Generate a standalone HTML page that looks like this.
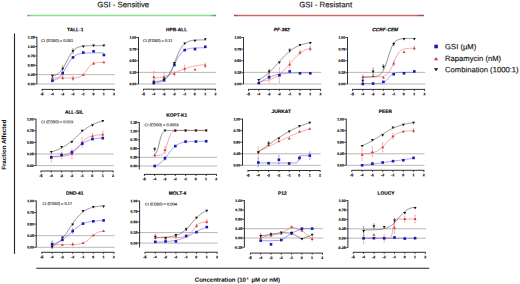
<!DOCTYPE html>
<html><head><meta charset="utf-8"><style>
html,body{margin:0;padding:0;background:#fff;width:520px;height:284px;overflow:hidden}
svg{display:block;position:absolute;left:0;top:0}
text{font-family:"Liberation Sans", sans-serif;text-rendering:geometricPrecision}
.yt{font-size:3.5px;font-weight:bold;text-anchor:end;fill:#111;stroke:#111;stroke-width:0.18px}
.xt{font-size:3.5px;font-weight:bold;text-anchor:middle;fill:#111;stroke:#111;stroke-width:0.2px}
.ttl{font-size:4.85px;font-weight:bold;fill:#000;stroke:#000;stroke-width:0.14px;text-anchor:middle}
.ci{font-size:3.95px;fill:#111;stroke:#111;stroke-width:0.1px}
.hd{font-size:7.8px;fill:#1a1a1a;stroke:#1a1a1a;stroke-width:0.16px}
.lg{font-size:7.65px;fill:#111;stroke:#111;stroke-width:0.14px}
.ax{font-size:6px;font-weight:bold;fill:#000}
</style></head><body>
<svg width="520" height="284" viewBox="0 0 520 284">
<text x="97.2" y="7.2" transform="rotate(0.05 97.2 7.2)" class="hd">GSI - Sensitive</text>
<text x="299.2" y="7.2" transform="rotate(0.05 299.2 7.2)" class="hd">GSI - Resistant</text>
<defs>
<linearGradient id="gg" gradientUnits="userSpaceOnUse" x1="27.5" y1="0" x2="216" y2="0">
<stop offset="0" stop-color="#556655"/><stop offset="0.012" stop-color="#7fd47f"/><stop offset="0.03" stop-color="#86e086"/><stop offset="0.965" stop-color="#86e086"/><stop offset="1" stop-color="#6a8a6a"/></linearGradient>
<linearGradient id="rg" gradientUnits="userSpaceOnUse" x1="234" y1="0" x2="423.8" y2="0">
<stop offset="0" stop-color="#664448"/><stop offset="0.02" stop-color="#c05a62"/><stop offset="0.04" stop-color="#d4646c"/><stop offset="0.955" stop-color="#d4646c"/><stop offset="1" stop-color="#6a4a4e"/></linearGradient>
</defs>
<line x1="27.5" y1="15.5" x2="216" y2="15.5" stroke="url(#gg)" stroke-width="1.3"/>
<line x1="234" y1="15.5" x2="423.8" y2="15.5" stroke="url(#rg)" stroke-width="1.3"/>
<line x1="14.5" y1="33.4" x2="14.5" y2="253.8" stroke="#222" stroke-width="1.1"/>
<text transform="translate(5.9,169.8) rotate(-89.95)" class="ax" style="font-size:6.15px">Fraction Affected</text>
<line x1="36.3" y1="268.2" x2="429.3" y2="268.2" stroke="#222" stroke-width="1.1"/>
<text x="194.8" y="281.8" transform="rotate(0.05 194.8 281.8)" class="ax">Concentration (10<tspan font-size="3.6" dx="0.7" dy="-2.4">x</tspan><tspan dx="1.3" dy="2.4"> µM or nM)</tspan></text>
<rect x="434.3" y="44.7" width="3.6" height="3.6" fill="#1a1aa8"/>
<path d="M436.1,57.1L438.2,60.3L434.0,60.3Z" fill="#c83838"/>
<path d="M434.0,68.3L438.2,68.3L436.1,71.3Z" fill="#111"/>
<text x="445.1" y="49.3" transform="rotate(0.05 445.1 49.3)" class="lg">GSI (µM)</text>
<text x="445.1" y="61" transform="rotate(0.05 445.1 61)" class="lg">Rapamycin (nM)</text>
<text x="445.1" y="72.2" transform="rotate(0.05 445.1 72.2)" class="lg">Combination (1000:1)</text>
<line x1="36.90" y1="74.65" x2="114.80" y2="74.65" stroke="#b0b0b0" stroke-width="0.9"/>
<line x1="36.90" y1="84.00" x2="114.80" y2="84.00" stroke="#b0b0b0" stroke-width="0.9"/>
<line x1="36.90" y1="36.85" x2="36.90" y2="84.00" stroke="#1a1a1a" stroke-width="0.9"/>
<line x1="34.80" y1="37.25" x2="36.90" y2="37.25" stroke="#1a1a1a" stroke-width="0.8"/>
<text x="34.65" y="38.55" transform="rotate(0.05 34.65 38.55)" class="yt">1.25</text>
<line x1="34.80" y1="46.60" x2="36.90" y2="46.60" stroke="#1a1a1a" stroke-width="0.8"/>
<text x="34.65" y="47.90" transform="rotate(0.05 34.65 47.90)" class="yt">1.00</text>
<line x1="34.80" y1="55.95" x2="36.90" y2="55.95" stroke="#1a1a1a" stroke-width="0.8"/>
<text x="34.65" y="57.25" transform="rotate(0.05 34.65 57.25)" class="yt">0.75</text>
<line x1="34.80" y1="65.30" x2="36.90" y2="65.30" stroke="#1a1a1a" stroke-width="0.8"/>
<text x="34.65" y="66.60" transform="rotate(0.05 34.65 66.60)" class="yt">0.50</text>
<line x1="34.80" y1="74.65" x2="36.90" y2="74.65" stroke="#1a1a1a" stroke-width="0.8"/>
<text x="34.65" y="75.95" transform="rotate(0.05 34.65 75.95)" class="yt">0.25</text>
<line x1="34.80" y1="84.00" x2="36.90" y2="84.00" stroke="#1a1a1a" stroke-width="0.8"/>
<text x="34.65" y="85.30" transform="rotate(0.05 34.65 85.30)" class="yt">0.00</text>
<line x1="41.70" y1="89.40" x2="114.60" y2="89.40" stroke="#1a1a1a" stroke-width="0.9"/>
<line x1="42.10" y1="89.40" x2="42.10" y2="91.00" stroke="#1a1a1a" stroke-width="0.8"/>
<text x="41.95" y="95.35" transform="rotate(0.05 41.95 95.35)" class="xt">-5</text>
<line x1="52.40" y1="89.40" x2="52.40" y2="91.00" stroke="#1a1a1a" stroke-width="0.8"/>
<text x="52.25" y="95.35" transform="rotate(0.05 52.25 95.35)" class="xt">-4</text>
<line x1="62.70" y1="89.40" x2="62.70" y2="91.00" stroke="#1a1a1a" stroke-width="0.8"/>
<text x="62.55" y="95.35" transform="rotate(0.05 62.55 95.35)" class="xt">-3</text>
<line x1="73.00" y1="89.40" x2="73.00" y2="91.00" stroke="#1a1a1a" stroke-width="0.8"/>
<text x="72.85" y="95.35" transform="rotate(0.05 72.85 95.35)" class="xt">-2</text>
<line x1="83.30" y1="89.40" x2="83.30" y2="91.00" stroke="#1a1a1a" stroke-width="0.8"/>
<text x="83.15" y="95.35" transform="rotate(0.05 83.15 95.35)" class="xt">-1</text>
<line x1="93.60" y1="89.40" x2="93.60" y2="91.00" stroke="#1a1a1a" stroke-width="0.8"/>
<text x="93.45" y="95.35" transform="rotate(0.05 93.45 95.35)" class="xt">0</text>
<line x1="103.90" y1="89.40" x2="103.90" y2="91.00" stroke="#1a1a1a" stroke-width="0.8"/>
<text x="103.75" y="95.35" transform="rotate(0.05 103.75 95.35)" class="xt">1</text>
<line x1="114.20" y1="89.40" x2="114.20" y2="91.00" stroke="#1a1a1a" stroke-width="0.8"/>
<text x="114.05" y="95.35" transform="rotate(0.05 114.05 95.35)" class="xt">2</text>
<text x="75.20" y="31.27" transform="rotate(0.05 75.20 31.27)" class="ttl">TALL-1</text>
<text x="41.25" y="41.95" transform="rotate(0.05 41.25 41.95)" class="ci">CI (ED50) = 0.051</text>
<path d="M62.70,66.05V71.28M62.00,66.05H63.40M62.00,71.28H63.40" stroke="#4a4a4a" stroke-width="0.45" fill="none"/>
<path d="M73.00,48.66V53.15M72.30,48.66H73.70M72.30,53.15H73.70" stroke="#4a4a4a" stroke-width="0.45" fill="none"/>
<path d="M52.40,75.77V79.51M51.70,75.77H53.10M51.70,79.51H53.10" stroke="#ee6a6a" stroke-width="0.45" fill="none"/>
<path d="M62.70,75.77V79.51M62.00,75.77H63.40M62.00,79.51H63.40" stroke="#ee6a6a" stroke-width="0.45" fill="none"/>
<path d="M73.00,76.52V80.26M72.30,76.52H73.70M72.30,80.26H73.70" stroke="#ee6a6a" stroke-width="0.45" fill="none"/>
<path d="M93.60,62.31V64.55M92.90,62.31H94.30M92.90,64.55H94.30" stroke="#ee6a6a" stroke-width="0.45" fill="none"/>
<path d="M52.40,79.14V82.13M51.70,79.14H53.10M51.70,82.13H53.10" stroke="#5a5af0" stroke-width="0.45" fill="none"/>
<polyline points="52.40,77.91 52.92,77.91 53.44,77.91 53.96,77.91 54.48,77.91 55.00,77.91 55.52,77.91 56.04,77.91 56.56,77.91 57.08,77.91 57.60,77.91 58.12,77.91 58.64,77.91 59.16,77.91 59.68,77.91 60.20,77.91 60.72,77.91 61.24,77.91 61.76,77.91 62.28,77.91 62.80,77.91 63.32,77.91 63.84,77.91 64.36,77.91 64.88,77.91 65.41,77.90 65.93,77.90 66.45,77.90 66.97,77.90 67.49,77.90 68.01,77.90 68.53,77.89 69.05,77.89 69.57,77.89 70.09,77.88 70.61,77.88 71.13,77.87 71.65,77.86 72.17,77.85 72.69,77.84 73.21,77.83 73.73,77.81 74.25,77.78 74.77,77.76 75.29,77.72 75.81,77.68 76.33,77.63 76.85,77.58 77.37,77.50 77.89,77.42 78.41,77.31 78.93,77.19 79.45,77.03 79.97,76.85 80.49,76.64 81.01,76.39 81.53,76.09 82.05,75.74 82.57,75.34 83.09,74.88 83.61,74.37 84.13,73.79 84.65,73.16 85.17,72.47 85.69,71.74 86.21,70.98 86.73,70.21 87.25,69.43 87.77,68.67 88.29,67.93 88.81,67.24 89.33,66.59 89.85,66.00 90.37,65.47 90.89,65.00 91.42,64.58 91.94,64.22 92.46,63.91 92.98,63.65 93.50,63.43 94.02,63.24 94.54,63.08 95.06,62.95 95.58,62.84 96.10,62.75 96.62,62.67 97.14,62.61 97.66,62.56 98.18,62.52 98.70,62.48 99.22,62.45 99.74,62.43 100.26,62.41 100.78,62.40 101.30,62.38 101.82,62.37 102.34,62.36 102.86,62.36 103.38,62.35 103.90,62.35" fill="none" stroke="#ee6a6a" stroke-width="0.6"/>
<path d="M52.40,76.14L53.85,78.64L50.95,78.64Z" fill="#c83838"/>
<path d="M62.70,76.14L64.15,78.64L61.25,78.64Z" fill="#c83838"/>
<path d="M73.00,76.89L74.45,79.39L71.55,79.39Z" fill="#c83838"/>
<path d="M83.30,73.15L84.75,75.65L81.85,75.65Z" fill="#c83838"/>
<path d="M93.60,61.93L95.05,64.43L92.15,64.43Z" fill="#c83838"/>
<path d="M103.90,60.81L105.35,63.31L102.45,63.31Z" fill="#c83838"/>
<polyline points="52.40,80.60 52.92,80.49 53.44,80.36 53.96,80.22 54.48,80.06 55.00,79.88 55.52,79.67 56.04,79.44 56.56,79.18 57.08,78.90 57.60,78.58 58.12,78.22 58.64,77.83 59.16,77.39 59.68,76.91 60.20,76.39 60.72,75.82 61.24,75.20 61.76,74.53 62.28,73.82 62.80,73.06 63.32,72.26 63.84,71.42 64.36,70.55 64.88,69.65 65.41,68.73 65.93,67.80 66.45,66.86 66.97,65.92 67.49,64.99 68.01,64.08 68.53,63.20 69.05,62.35 69.57,61.53 70.09,60.76 70.61,60.03 71.13,59.34 71.65,58.71 72.17,58.12 72.69,57.58 73.21,57.08 73.73,56.63 74.25,56.22 74.77,55.85 75.29,55.52 75.81,55.22 76.33,54.95 76.85,54.71 77.37,54.49 77.89,54.30 78.41,54.13 78.93,53.98 79.45,53.85 79.97,53.73 80.49,53.63 81.01,53.54 81.53,53.46 82.05,53.38 82.57,53.32 83.09,53.27 83.61,53.22 84.13,53.17 84.65,53.14 85.17,53.10 85.69,53.08 86.21,53.05 86.73,53.03 87.25,53.01 87.77,52.99 88.29,52.98 88.81,52.96 89.33,52.95 89.85,52.94 90.37,52.93 90.89,52.92 91.42,52.92 91.94,52.91 92.46,52.91 92.98,52.90 93.50,52.90 94.02,52.89 94.54,52.89 95.06,52.89 95.58,52.88 96.10,52.88 96.62,52.88 97.14,52.88 97.66,52.88 98.18,52.88 98.70,52.88 99.22,52.87 99.74,52.87 100.26,52.87 100.78,52.87 101.30,52.87 101.82,52.87 102.34,52.87 102.86,52.87 103.38,52.87 103.90,52.87" fill="none" stroke="#5a5af0" stroke-width="0.6"/>
<rect x="51.10" y="79.33" width="2.6" height="2.6" fill="#1a1aa8"/>
<rect x="61.40" y="71.85" width="2.6" height="2.6" fill="#1a1aa8"/>
<rect x="71.70" y="56.15" width="2.6" height="2.6" fill="#1a1aa8"/>
<rect x="82.00" y="51.28" width="2.6" height="2.6" fill="#1a1aa8"/>
<rect x="92.30" y="49.98" width="2.6" height="2.6" fill="#1a1aa8"/>
<rect x="102.60" y="53.72" width="2.6" height="2.6" fill="#1a1aa8"/>
<polyline points="52.40,75.79 52.92,75.69 53.44,75.57 53.96,75.44 54.48,75.29 55.00,75.12 55.52,74.93 56.04,74.71 56.56,74.47 57.08,74.20 57.60,73.89 58.12,73.56 58.64,73.18 59.16,72.76 59.68,72.29 60.20,71.78 60.72,71.22 61.24,70.61 61.76,69.95 62.28,69.24 62.80,68.47 63.32,67.65 63.84,66.79 64.36,65.88 64.88,64.94 65.41,63.96 65.93,62.96 66.45,61.94 66.97,60.91 67.49,59.89 68.01,58.88 68.53,57.88 69.05,56.92 69.57,55.98 70.09,55.09 70.61,54.24 71.13,53.45 71.65,52.70 72.17,52.00 72.69,51.36 73.21,50.77 73.73,50.23 74.25,49.73 74.77,49.28 75.29,48.88 75.81,48.52 76.33,48.19 76.85,47.90 77.37,47.64 77.89,47.41 78.41,47.20 78.93,47.02 79.45,46.86 79.97,46.71 80.49,46.58 81.01,46.47 81.53,46.37 82.05,46.29 82.57,46.21 83.09,46.14 83.61,46.08 84.13,46.03 84.65,45.99 85.17,45.95 85.69,45.91 86.21,45.88 86.73,45.85 87.25,45.83 87.77,45.81 88.29,45.79 88.81,45.78 89.33,45.76 89.85,45.75 90.37,45.74 90.89,45.73 91.42,45.72 91.94,45.71 92.46,45.71 92.98,45.70 93.50,45.70 94.02,45.69 94.54,45.69 95.06,45.69 95.58,45.68 96.10,45.68 96.62,45.68 97.14,45.68 97.66,45.67 98.18,45.67 98.70,45.67 99.22,45.67 99.74,45.67 100.26,45.67 100.78,45.67 101.30,45.67 101.82,45.67 102.34,45.67 102.86,45.67 103.38,45.66 103.90,45.66" fill="none" stroke="#4a4a4a" stroke-width="0.6"/>
<path d="M50.95,74.77L53.85,74.77L52.40,77.27Z" fill="#111"/>
<path d="M61.25,67.67L64.15,67.67L62.70,70.17Z" fill="#111"/>
<path d="M71.55,49.90L74.45,49.90L73.00,52.40Z" fill="#111"/>
<path d="M81.85,45.60L84.75,45.60L83.30,48.10Z" fill="#111"/>
<path d="M92.15,44.48L95.05,44.48L93.60,46.98Z" fill="#111"/>
<path d="M102.45,44.48L105.35,44.48L103.90,46.98Z" fill="#111"/>
<line x1="138.50" y1="72.38" x2="216.20" y2="72.38" stroke="#b0b0b0" stroke-width="0.9"/>
<line x1="138.50" y1="84.00" x2="216.20" y2="84.00" stroke="#b0b0b0" stroke-width="0.9"/>
<line x1="138.50" y1="37.10" x2="138.50" y2="84.00" stroke="#1a1a1a" stroke-width="0.9"/>
<line x1="136.40" y1="37.50" x2="138.50" y2="37.50" stroke="#1a1a1a" stroke-width="0.8"/>
<text x="136.25" y="38.80" transform="rotate(0.05 136.25 38.80)" class="yt">1.00</text>
<line x1="136.40" y1="49.12" x2="138.50" y2="49.12" stroke="#1a1a1a" stroke-width="0.8"/>
<text x="136.25" y="50.42" transform="rotate(0.05 136.25 50.42)" class="yt">0.75</text>
<line x1="136.40" y1="60.75" x2="138.50" y2="60.75" stroke="#1a1a1a" stroke-width="0.8"/>
<text x="136.25" y="62.05" transform="rotate(0.05 136.25 62.05)" class="yt">0.50</text>
<line x1="136.40" y1="72.38" x2="138.50" y2="72.38" stroke="#1a1a1a" stroke-width="0.8"/>
<text x="136.25" y="73.67" transform="rotate(0.05 136.25 73.67)" class="yt">0.25</text>
<line x1="136.40" y1="84.00" x2="138.50" y2="84.00" stroke="#1a1a1a" stroke-width="0.8"/>
<text x="136.25" y="85.30" transform="rotate(0.05 136.25 85.30)" class="yt">0.00</text>
<line x1="143.10" y1="89.20" x2="216.00" y2="89.20" stroke="#1a1a1a" stroke-width="0.9"/>
<line x1="143.50" y1="89.20" x2="143.50" y2="90.80" stroke="#1a1a1a" stroke-width="0.8"/>
<text x="143.35" y="95.15" transform="rotate(0.05 143.35 95.15)" class="xt">-5</text>
<line x1="153.80" y1="89.20" x2="153.80" y2="90.80" stroke="#1a1a1a" stroke-width="0.8"/>
<text x="153.65" y="95.15" transform="rotate(0.05 153.65 95.15)" class="xt">-4</text>
<line x1="164.10" y1="89.20" x2="164.10" y2="90.80" stroke="#1a1a1a" stroke-width="0.8"/>
<text x="163.95" y="95.15" transform="rotate(0.05 163.95 95.15)" class="xt">-3</text>
<line x1="174.40" y1="89.20" x2="174.40" y2="90.80" stroke="#1a1a1a" stroke-width="0.8"/>
<text x="174.25" y="95.15" transform="rotate(0.05 174.25 95.15)" class="xt">-2</text>
<line x1="184.70" y1="89.20" x2="184.70" y2="90.80" stroke="#1a1a1a" stroke-width="0.8"/>
<text x="184.55" y="95.15" transform="rotate(0.05 184.55 95.15)" class="xt">-1</text>
<line x1="195.00" y1="89.20" x2="195.00" y2="90.80" stroke="#1a1a1a" stroke-width="0.8"/>
<text x="194.85" y="95.15" transform="rotate(0.05 194.85 95.15)" class="xt">0</text>
<line x1="205.30" y1="89.20" x2="205.30" y2="90.80" stroke="#1a1a1a" stroke-width="0.8"/>
<text x="205.15" y="95.15" transform="rotate(0.05 205.15 95.15)" class="xt">1</text>
<line x1="215.60" y1="89.20" x2="215.60" y2="90.80" stroke="#1a1a1a" stroke-width="0.8"/>
<text x="215.45" y="95.15" transform="rotate(0.05 215.45 95.15)" class="xt">2</text>
<text x="176.60" y="31.27" transform="rotate(0.05 176.60 31.27)" class="ttl">HPB-ALL</text>
<text x="143.00" y="41.95" transform="rotate(0.05 143.00 41.95)" class="ci">CI (ED50) = 0.11</text>
<path d="M153.80,71.44V82.61M153.10,71.44H154.50M153.10,82.61H154.50" stroke="#ee6a6a" stroke-width="0.45" fill="none"/>
<path d="M164.10,73.31V80.75M163.40,73.31H164.80M163.40,80.75H164.80" stroke="#ee6a6a" stroke-width="0.45" fill="none"/>
<path d="M174.40,71.44V76.09M173.70,71.44H175.10M173.70,76.09H175.10" stroke="#ee6a6a" stroke-width="0.45" fill="none"/>
<path d="M184.70,65.40V71.91M184.00,65.40H185.40M184.00,71.91H185.40" stroke="#ee6a6a" stroke-width="0.45" fill="none"/>
<path d="M205.30,63.08V67.72M204.60,63.08H206.00M204.60,67.72H206.00" stroke="#ee6a6a" stroke-width="0.45" fill="none"/>
<path d="M153.80,79.81V83.53M153.10,79.81H154.50M153.10,83.53H154.50" stroke="#4a4a4a" stroke-width="0.45" fill="none"/>
<polyline points="153.80,78.34 154.32,78.28 154.84,78.22 155.36,78.16 155.88,78.09 156.40,78.02 156.92,77.95 157.44,77.87 157.96,77.80 158.48,77.71 159.00,77.63 159.52,77.53 160.04,77.44 160.56,77.34 161.08,77.24 161.60,77.13 162.12,77.01 162.64,76.90 163.16,76.78 163.68,76.65 164.20,76.52 164.72,76.38 165.24,76.24 165.76,76.09 166.28,75.94 166.81,75.78 167.33,75.62 167.85,75.45 168.37,75.28 168.89,75.11 169.41,74.93 169.93,74.74 170.45,74.55 170.97,74.36 171.49,74.16 172.01,73.96 172.53,73.75 173.05,73.54 173.57,73.33 174.09,73.12 174.61,72.90 175.13,72.68 175.65,72.46 176.17,72.24 176.69,72.02 177.21,71.80 177.73,71.57 178.25,71.35 178.77,71.13 179.29,70.91 179.81,70.69 180.33,70.47 180.85,70.25 181.37,70.04 181.89,69.83 182.41,69.62 182.93,69.41 183.45,69.21 183.97,69.01 184.49,68.82 185.01,68.63 185.53,68.44 186.05,68.26 186.57,68.09 187.09,67.91 187.61,67.75 188.13,67.59 188.65,67.43 189.17,67.28 189.69,67.13 190.21,66.99 190.73,66.85 191.25,66.72 191.77,66.59 192.29,66.47 192.82,66.35 193.34,66.24 193.86,66.13 194.38,66.02 194.90,65.92 195.42,65.83 195.94,65.74 196.46,65.65 196.98,65.57 197.50,65.49 198.02,65.41 198.54,65.34 199.06,65.27 199.58,65.20 200.10,65.14 200.62,65.08 201.14,65.02 201.66,64.97 202.18,64.92 202.70,64.87 203.22,64.82 203.74,64.78 204.26,64.74 204.78,64.70 205.30,64.66" fill="none" stroke="#ee6a6a" stroke-width="0.6"/>
<path d="M153.80,75.53L155.25,78.03L152.35,78.03Z" fill="#c83838"/>
<path d="M164.10,75.53L165.55,78.03L162.65,78.03Z" fill="#c83838"/>
<path d="M174.40,72.27L175.85,74.77L172.95,74.77Z" fill="#c83838"/>
<path d="M184.70,67.16L186.15,69.66L183.25,69.66Z" fill="#c83838"/>
<path d="M195.00,68.09L196.45,70.59L193.55,70.59Z" fill="#c83838"/>
<path d="M205.30,63.90L206.75,66.40L203.85,66.40Z" fill="#c83838"/>
<polyline points="153.80,83.03 154.32,83.00 154.84,82.96 155.36,82.91 155.88,82.86 156.40,82.80 156.92,82.73 157.44,82.66 157.96,82.58 158.48,82.48 159.00,82.38 159.52,82.26 160.04,82.12 160.56,81.97 161.08,81.80 161.60,81.61 162.12,81.40 162.64,81.16 163.16,80.90 163.68,80.60 164.20,80.27 164.72,79.91 165.24,79.50 165.76,79.06 166.28,78.57 166.81,78.04 167.33,77.45 167.85,76.82 168.37,76.13 168.89,75.39 169.41,74.59 169.93,73.74 170.45,72.85 170.97,71.90 171.49,70.91 172.01,69.89 172.53,68.83 173.05,67.75 173.57,66.65 174.09,65.54 174.61,64.43 175.13,63.33 175.65,62.25 176.17,61.19 176.69,60.16 177.21,59.17 177.73,58.23 178.25,57.33 178.77,56.48 179.29,55.68 179.81,54.93 180.33,54.24 180.85,53.61 181.37,53.02 181.89,52.48 182.41,51.99 182.93,51.54 183.45,51.14 183.97,50.77 184.49,50.44 185.01,50.14 185.53,49.88 186.05,49.64 186.57,49.42 187.09,49.23 187.61,49.06 188.13,48.91 188.65,48.77 189.17,48.65 189.69,48.55 190.21,48.45 190.73,48.37 191.25,48.29 191.77,48.23 192.29,48.17 192.82,48.12 193.34,48.07 193.86,48.03 194.38,48.00 194.90,47.96 195.42,47.94 195.94,47.91 196.46,47.89 196.98,47.87 197.50,47.85 198.02,47.84 198.54,47.82 199.06,47.81 199.58,47.80 200.10,47.79 200.62,47.78 201.14,47.78 201.66,47.77 202.18,47.77 202.70,47.76 203.22,47.76 203.74,47.75 204.26,47.75 204.78,47.75 205.30,47.74" fill="none" stroke="#5a5af0" stroke-width="0.6"/>
<rect x="152.50" y="81.77" width="2.6" height="2.6" fill="#1a1aa8"/>
<rect x="162.80" y="78.98" width="2.6" height="2.6" fill="#1a1aa8"/>
<rect x="173.10" y="63.64" width="2.6" height="2.6" fill="#1a1aa8"/>
<rect x="183.40" y="48.76" width="2.6" height="2.6" fill="#1a1aa8"/>
<rect x="193.70" y="47.83" width="2.6" height="2.6" fill="#1a1aa8"/>
<rect x="204.00" y="45.50" width="2.6" height="2.6" fill="#1a1aa8"/>
<polyline points="153.80,81.69 154.32,81.66 154.84,81.63 155.36,81.59 155.88,81.55 156.40,81.50 156.92,81.44 157.44,81.38 157.96,81.31 158.48,81.23 159.00,81.14 159.52,81.03 160.04,80.92 160.56,80.79 161.08,80.64 161.60,80.47 162.12,80.28 162.64,80.07 163.16,79.83 163.68,79.57 164.20,79.27 164.72,78.94 165.24,78.57 165.76,78.15 166.28,77.69 166.81,77.18 167.33,76.62 167.85,76.01 168.37,75.33 168.89,74.59 169.41,73.79 169.93,72.92 170.45,71.99 170.97,71.00 171.49,69.94 172.01,68.82 172.53,67.64 173.05,66.42 173.57,65.15 174.09,63.86 174.61,62.54 175.13,61.20 175.65,59.86 176.17,58.53 176.69,57.22 177.21,55.94 177.73,54.70 178.25,53.50 178.77,52.35 179.29,51.26 179.81,50.23 180.33,49.27 180.85,48.37 181.37,47.54 181.89,46.77 182.41,46.06 182.93,45.42 183.45,44.83 183.97,44.30 184.49,43.81 185.01,43.38 185.53,42.99 186.05,42.64 186.57,42.32 187.09,42.04 187.61,41.79 188.13,41.57 188.65,41.37 189.17,41.19 189.69,41.03 190.21,40.89 190.73,40.77 191.25,40.66 191.77,40.56 192.29,40.48 192.82,40.40 193.34,40.34 193.86,40.28 194.38,40.22 194.90,40.18 195.42,40.14 195.94,40.10 196.46,40.07 196.98,40.04 197.50,40.02 198.02,40.00 198.54,39.98 199.06,39.96 199.58,39.95 200.10,39.93 200.62,39.92 201.14,39.91 201.66,39.90 202.18,39.89 202.70,39.89 203.22,39.88 203.74,39.88 204.26,39.87 204.78,39.87 205.30,39.86" fill="none" stroke="#4a4a4a" stroke-width="0.6"/>
<path d="M152.35,80.67L155.25,80.67L153.80,83.17Z" fill="#111"/>
<path d="M162.65,78.35L165.55,78.35L164.10,80.85Z" fill="#111"/>
<path d="M172.95,62.08L175.85,62.08L174.40,64.58Z" fill="#111"/>
<path d="M183.25,42.55L186.15,42.55L184.70,45.05Z" fill="#111"/>
<path d="M193.55,39.75L196.45,39.75L195.00,42.25Z" fill="#111"/>
<path d="M203.85,38.36L206.75,38.36L205.30,40.86Z" fill="#111"/>
<line x1="243.50" y1="72.38" x2="321.20" y2="72.38" stroke="#b0b0b0" stroke-width="0.9"/>
<line x1="243.50" y1="84.00" x2="321.20" y2="84.00" stroke="#b0b0b0" stroke-width="0.9"/>
<line x1="243.50" y1="37.10" x2="243.50" y2="84.00" stroke="#1a1a1a" stroke-width="0.9"/>
<line x1="241.40" y1="37.50" x2="243.50" y2="37.50" stroke="#1a1a1a" stroke-width="0.8"/>
<text x="241.25" y="38.80" transform="rotate(0.05 241.25 38.80)" class="yt">1.00</text>
<line x1="241.40" y1="49.12" x2="243.50" y2="49.12" stroke="#1a1a1a" stroke-width="0.8"/>
<text x="241.25" y="50.42" transform="rotate(0.05 241.25 50.42)" class="yt">0.75</text>
<line x1="241.40" y1="60.75" x2="243.50" y2="60.75" stroke="#1a1a1a" stroke-width="0.8"/>
<text x="241.25" y="62.05" transform="rotate(0.05 241.25 62.05)" class="yt">0.50</text>
<line x1="241.40" y1="72.38" x2="243.50" y2="72.38" stroke="#1a1a1a" stroke-width="0.8"/>
<text x="241.25" y="73.67" transform="rotate(0.05 241.25 73.67)" class="yt">0.25</text>
<line x1="241.40" y1="84.00" x2="243.50" y2="84.00" stroke="#1a1a1a" stroke-width="0.8"/>
<text x="241.25" y="85.30" transform="rotate(0.05 241.25 85.30)" class="yt">0.00</text>
<line x1="248.10" y1="89.40" x2="321.00" y2="89.40" stroke="#1a1a1a" stroke-width="0.9"/>
<line x1="248.50" y1="89.40" x2="248.50" y2="91.00" stroke="#1a1a1a" stroke-width="0.8"/>
<text x="248.35" y="95.35" transform="rotate(0.05 248.35 95.35)" class="xt">-5</text>
<line x1="258.80" y1="89.40" x2="258.80" y2="91.00" stroke="#1a1a1a" stroke-width="0.8"/>
<text x="258.65" y="95.35" transform="rotate(0.05 258.65 95.35)" class="xt">-4</text>
<line x1="269.10" y1="89.40" x2="269.10" y2="91.00" stroke="#1a1a1a" stroke-width="0.8"/>
<text x="268.95" y="95.35" transform="rotate(0.05 268.95 95.35)" class="xt">-3</text>
<line x1="279.40" y1="89.40" x2="279.40" y2="91.00" stroke="#1a1a1a" stroke-width="0.8"/>
<text x="279.25" y="95.35" transform="rotate(0.05 279.25 95.35)" class="xt">-2</text>
<line x1="289.70" y1="89.40" x2="289.70" y2="91.00" stroke="#1a1a1a" stroke-width="0.8"/>
<text x="289.55" y="95.35" transform="rotate(0.05 289.55 95.35)" class="xt">-1</text>
<line x1="300.00" y1="89.40" x2="300.00" y2="91.00" stroke="#1a1a1a" stroke-width="0.8"/>
<text x="299.85" y="95.35" transform="rotate(0.05 299.85 95.35)" class="xt">0</text>
<line x1="310.30" y1="89.40" x2="310.30" y2="91.00" stroke="#1a1a1a" stroke-width="0.8"/>
<text x="310.15" y="95.35" transform="rotate(0.05 310.15 95.35)" class="xt">1</text>
<line x1="320.60" y1="89.40" x2="320.60" y2="91.00" stroke="#1a1a1a" stroke-width="0.8"/>
<text x="320.45" y="95.35" transform="rotate(0.05 320.45 95.35)" class="xt">2</text>
<text x="281.70" y="31.27" transform="rotate(0.05 281.70 31.27)" class="ttl" style="font-style:italic">PF-382</text>
<path d="M279.40,67.72V82.61M278.70,67.72H280.10M278.70,82.61H280.10" stroke="#ee6a6a" stroke-width="0.45" fill="none"/>
<path d="M269.10,72.84V82.14M268.40,72.84H269.80M268.40,82.14H269.80" stroke="#ee6a6a" stroke-width="0.45" fill="none"/>
<path d="M289.70,60.75V68.19M289.00,60.75H290.40M289.00,68.19H290.40" stroke="#ee6a6a" stroke-width="0.45" fill="none"/>
<path d="M300.00,50.52V54.24M299.30,50.52H300.70M299.30,54.24H300.70" stroke="#ee6a6a" stroke-width="0.45" fill="none"/>
<path d="M310.30,46.34V50.98M309.60,46.34H311.00M309.60,50.98H311.00" stroke="#ee6a6a" stroke-width="0.45" fill="none"/>
<path d="M269.10,69.12V73.77M268.40,69.12H269.80M268.40,73.77H269.80" stroke="#4a4a4a" stroke-width="0.45" fill="none"/>
<path d="M289.70,48.66V52.38M289.00,48.66H290.40M289.00,52.38H290.40" stroke="#4a4a4a" stroke-width="0.45" fill="none"/>
<polyline points="258.80,81.48 259.32,81.43 259.84,81.39 260.36,81.34 260.88,81.28 261.40,81.23 261.92,81.16 262.44,81.10 262.96,81.03 263.48,80.96 264.00,80.88 264.52,80.79 265.04,80.71 265.56,80.61 266.08,80.51 266.60,80.40 267.12,80.29 267.64,80.17 268.16,80.04 268.68,79.90 269.20,79.76 269.72,79.60 270.24,79.44 270.76,79.27 271.28,79.08 271.81,78.89 272.33,78.68 272.85,78.47 273.37,78.24 273.89,78.00 274.41,77.74 274.93,77.48 275.45,77.19 275.97,76.90 276.49,76.59 277.01,76.26 277.53,75.92 278.05,75.57 278.57,75.19 279.09,74.81 279.61,74.40 280.13,73.98 280.65,73.55 281.17,73.10 281.69,72.63 282.21,72.15 282.73,71.65 283.25,71.14 283.77,70.61 284.29,70.07 284.81,69.52 285.33,68.96 285.85,68.38 286.37,67.80 286.89,67.21 287.41,66.61 287.93,66.01 288.45,65.40 288.97,64.78 289.49,64.17 290.01,63.56 290.53,62.94 291.05,62.33 291.57,61.72 292.09,61.12 292.61,60.53 293.13,59.94 293.65,59.36 294.17,58.79 294.69,58.23 295.21,57.68 295.73,57.15 296.25,56.63 296.77,56.12 297.29,55.63 297.82,55.15 298.34,54.69 298.86,54.25 299.38,53.82 299.90,53.41 300.42,53.01 300.94,52.63 301.46,52.26 301.98,51.91 302.50,51.58 303.02,51.26 303.54,50.95 304.06,50.66 304.58,50.39 305.10,50.13 305.62,49.88 306.14,49.64 306.66,49.42 307.18,49.21 307.70,49.00 308.22,48.82 308.74,48.64 309.26,48.47 309.78,48.31 310.30,48.16" fill="none" stroke="#ee6a6a" stroke-width="0.6"/>
<path d="M258.80,81.57L260.25,84.07L257.35,84.07Z" fill="#c83838"/>
<path d="M269.10,75.99L270.55,78.49L267.65,78.49Z" fill="#c83838"/>
<path d="M279.40,73.66L280.85,76.16L277.95,76.16Z" fill="#c83838"/>
<path d="M289.70,62.97L291.15,65.47L288.25,65.47Z" fill="#c83838"/>
<path d="M300.00,50.88L301.45,53.38L298.55,53.38Z" fill="#c83838"/>
<path d="M310.30,47.16L311.75,49.66L308.85,49.66Z" fill="#c83838"/>
<polyline points="258.80,83.04 259.32,82.72 259.84,82.40 260.36,82.08 260.88,81.76 261.40,81.44 261.92,81.13 262.44,80.81 262.96,80.50 263.48,80.19 264.00,79.89 264.52,79.59 265.04,79.30 265.56,79.01 266.08,78.74 266.60,78.46 267.12,78.20 267.64,77.94 268.16,77.69 268.68,77.45 269.20,77.21 269.72,76.99 270.24,76.77 270.76,76.56 271.28,76.36 271.81,76.17 272.33,75.99 272.85,75.81 273.37,75.64 273.89,75.48 274.41,75.33 274.93,75.18 275.45,75.04 275.97,74.91 276.49,74.79 277.01,74.67 277.53,74.55 278.05,74.45 278.57,74.35 279.09,74.25 279.61,74.16 280.13,74.08 280.65,74.00 281.17,73.92 281.69,73.85 282.21,73.78 282.73,73.72 283.25,73.66 283.77,73.60 284.29,73.55 284.81,73.50 285.33,73.46 285.85,73.41 286.37,73.37 286.89,73.33 287.41,73.30 287.93,73.26 288.45,73.23 288.97,73.20 289.49,73.17 290.01,73.15 290.53,73.12 291.05,73.10 291.57,73.08 292.09,73.06 292.61,73.04 293.13,73.02 293.65,73.00 294.17,72.99 294.69,72.97 295.21,72.96 295.73,72.95 296.25,72.93 296.77,72.92 297.29,72.91 297.82,72.90 298.34,72.89 298.86,72.88 299.38,72.88 299.90,72.87 300.42,72.86 300.94,72.85 301.46,72.85 301.98,72.84 302.50,72.84 303.02,72.83 303.54,72.83 304.06,72.82 304.58,72.82 305.10,72.82 305.62,72.81 306.14,72.81 306.66,72.81 307.18,72.80 307.70,72.80 308.22,72.80 308.74,72.79 309.26,72.79 309.78,72.79 310.30,72.79" fill="none" stroke="#5a5af0" stroke-width="0.6"/>
<rect x="257.50" y="81.77" width="2.6" height="2.6" fill="#1a1aa8"/>
<rect x="267.80" y="75.73" width="2.6" height="2.6" fill="#1a1aa8"/>
<rect x="278.10" y="73.86" width="2.6" height="2.6" fill="#1a1aa8"/>
<rect x="288.40" y="70.14" width="2.6" height="2.6" fill="#1a1aa8"/>
<rect x="298.70" y="72.01" width="2.6" height="2.6" fill="#1a1aa8"/>
<rect x="309.00" y="72.01" width="2.6" height="2.6" fill="#1a1aa8"/>
<polyline points="258.80,79.60 259.32,79.35 259.84,79.09 260.36,78.82 260.88,78.53 261.40,78.24 261.92,77.93 262.44,77.61 262.96,77.28 263.48,76.94 264.00,76.59 264.52,76.22 265.04,75.84 265.56,75.45 266.08,75.05 266.60,74.63 267.12,74.20 267.64,73.76 268.16,73.31 268.68,72.85 269.20,72.37 269.72,71.88 270.24,71.39 270.76,70.88 271.28,70.36 271.81,69.83 272.33,69.29 272.85,68.75 273.37,68.20 273.89,67.63 274.41,67.07 274.93,66.49 275.45,65.92 275.97,65.33 276.49,64.75 277.01,64.16 277.53,63.57 278.05,62.98 278.57,62.39 279.09,61.80 279.61,61.21 280.13,60.62 280.65,60.04 281.17,59.46 281.69,58.89 282.21,58.32 282.73,57.76 283.25,57.21 283.77,56.66 284.29,56.13 284.81,55.60 285.33,55.08 285.85,54.57 286.37,54.07 286.89,53.59 287.41,53.11 287.93,52.65 288.45,52.20 288.97,51.76 289.49,51.33 290.01,50.92 290.53,50.51 291.05,50.12 291.57,49.75 292.09,49.38 292.61,49.03 293.13,48.69 293.65,48.36 294.17,48.04 294.69,47.73 295.21,47.44 295.73,47.16 296.25,46.88 296.77,46.62 297.29,46.37 297.82,46.13 298.34,45.90 298.86,45.68 299.38,45.47 299.90,45.27 300.42,45.07 300.94,44.89 301.46,44.71 301.98,44.54 302.50,44.38 303.02,44.22 303.54,44.08 304.06,43.94 304.58,43.80 305.10,43.68 305.62,43.55 306.14,43.44 306.66,43.33 307.18,43.22 307.70,43.12 308.22,43.03 308.74,42.94 309.26,42.85 309.78,42.77 310.30,42.69" fill="none" stroke="#4a4a4a" stroke-width="0.6"/>
<path d="M257.35,79.00L260.25,79.00L258.80,81.50Z" fill="#111"/>
<path d="M267.65,70.44L270.55,70.44L269.10,72.94Z" fill="#111"/>
<path d="M277.95,61.61L280.85,61.61L279.40,64.11Z" fill="#111"/>
<path d="M288.25,49.52L291.15,49.52L289.70,52.02Z" fill="#111"/>
<path d="M298.55,43.94L301.45,43.94L300.00,46.44Z" fill="#111"/>
<path d="M308.85,42.08L311.75,42.08L310.30,44.58Z" fill="#111"/>
<line x1="347.50" y1="72.38" x2="425.20" y2="72.38" stroke="#b0b0b0" stroke-width="0.9"/>
<line x1="347.50" y1="84.00" x2="425.20" y2="84.00" stroke="#b0b0b0" stroke-width="0.9"/>
<line x1="347.50" y1="37.10" x2="347.50" y2="84.00" stroke="#1a1a1a" stroke-width="0.9"/>
<line x1="345.40" y1="37.50" x2="347.50" y2="37.50" stroke="#1a1a1a" stroke-width="0.8"/>
<text x="345.25" y="38.80" transform="rotate(0.05 345.25 38.80)" class="yt">1.00</text>
<line x1="345.40" y1="49.12" x2="347.50" y2="49.12" stroke="#1a1a1a" stroke-width="0.8"/>
<text x="345.25" y="50.42" transform="rotate(0.05 345.25 50.42)" class="yt">0.75</text>
<line x1="345.40" y1="60.75" x2="347.50" y2="60.75" stroke="#1a1a1a" stroke-width="0.8"/>
<text x="345.25" y="62.05" transform="rotate(0.05 345.25 62.05)" class="yt">0.50</text>
<line x1="345.40" y1="72.38" x2="347.50" y2="72.38" stroke="#1a1a1a" stroke-width="0.8"/>
<text x="345.25" y="73.67" transform="rotate(0.05 345.25 73.67)" class="yt">0.25</text>
<line x1="345.40" y1="84.00" x2="347.50" y2="84.00" stroke="#1a1a1a" stroke-width="0.8"/>
<text x="345.25" y="85.30" transform="rotate(0.05 345.25 85.30)" class="yt">0.00</text>
<line x1="352.10" y1="89.40" x2="425.00" y2="89.40" stroke="#1a1a1a" stroke-width="0.9"/>
<line x1="352.50" y1="89.40" x2="352.50" y2="91.00" stroke="#1a1a1a" stroke-width="0.8"/>
<text x="352.35" y="95.35" transform="rotate(0.05 352.35 95.35)" class="xt">-5</text>
<line x1="362.80" y1="89.40" x2="362.80" y2="91.00" stroke="#1a1a1a" stroke-width="0.8"/>
<text x="362.65" y="95.35" transform="rotate(0.05 362.65 95.35)" class="xt">-4</text>
<line x1="373.10" y1="89.40" x2="373.10" y2="91.00" stroke="#1a1a1a" stroke-width="0.8"/>
<text x="372.95" y="95.35" transform="rotate(0.05 372.95 95.35)" class="xt">-3</text>
<line x1="383.40" y1="89.40" x2="383.40" y2="91.00" stroke="#1a1a1a" stroke-width="0.8"/>
<text x="383.25" y="95.35" transform="rotate(0.05 383.25 95.35)" class="xt">-2</text>
<line x1="393.70" y1="89.40" x2="393.70" y2="91.00" stroke="#1a1a1a" stroke-width="0.8"/>
<text x="393.55" y="95.35" transform="rotate(0.05 393.55 95.35)" class="xt">-1</text>
<line x1="404.00" y1="89.40" x2="404.00" y2="91.00" stroke="#1a1a1a" stroke-width="0.8"/>
<text x="403.85" y="95.35" transform="rotate(0.05 403.85 95.35)" class="xt">0</text>
<line x1="414.30" y1="89.40" x2="414.30" y2="91.00" stroke="#1a1a1a" stroke-width="0.8"/>
<text x="414.15" y="95.35" transform="rotate(0.05 414.15 95.35)" class="xt">1</text>
<line x1="424.60" y1="89.40" x2="424.60" y2="91.00" stroke="#1a1a1a" stroke-width="0.8"/>
<text x="424.45" y="95.35" transform="rotate(0.05 424.45 95.35)" class="xt">2</text>
<text x="385.25" y="31.27" transform="rotate(0.05 385.25 31.27)" class="ttl" style="font-style:italic">CCRF-CEM</text>
<path d="M362.80,78.42V83.07M362.10,78.42H363.50M362.10,83.07H363.50" stroke="#4a4a4a" stroke-width="0.45" fill="none"/>
<path d="M373.10,68.19V74.70M372.40,68.19H373.80M372.40,74.70H373.80" stroke="#4a4a4a" stroke-width="0.45" fill="none"/>
<path d="M383.40,64.47V69.12M382.70,64.47H384.10M382.70,69.12H384.10" stroke="#4a4a4a" stroke-width="0.45" fill="none"/>
<path d="M393.70,42.15V45.87M393.00,42.15H394.40M393.00,45.87H394.40" stroke="#4a4a4a" stroke-width="0.45" fill="none"/>
<path d="M393.70,61.22V65.86M393.00,61.22H394.40M393.00,65.86H394.40" stroke="#ee6a6a" stroke-width="0.45" fill="none"/>
<path d="M414.30,46.34V50.05M413.60,46.34H415.00M413.60,50.05H415.00" stroke="#ee6a6a" stroke-width="0.45" fill="none"/>
<path d="M362.80,74.70V79.35M362.10,74.70H363.50M362.10,79.35H363.50" stroke="#ee6a6a" stroke-width="0.45" fill="none"/>
<polyline points="362.80,77.02 363.32,77.02 363.84,77.02 364.36,77.02 364.88,77.02 365.40,77.02 365.92,77.02 366.44,77.02 366.96,77.02 367.48,77.02 368.00,77.02 368.52,77.02 369.04,77.02 369.56,77.02 370.08,77.01 370.60,77.01 371.12,77.01 371.64,77.01 372.16,77.00 372.68,77.00 373.20,77.00 373.72,76.99 374.24,76.98 374.76,76.97 375.28,76.97 375.81,76.95 376.33,76.94 376.85,76.92 377.37,76.90 377.89,76.88 378.41,76.86 378.93,76.82 379.45,76.78 379.97,76.74 380.49,76.69 381.01,76.62 381.53,76.55 382.05,76.46 382.57,76.35 383.09,76.23 383.61,76.08 384.13,75.91 384.65,75.70 385.17,75.46 385.69,75.19 386.21,74.86 386.73,74.49 387.25,74.05 387.77,73.55 388.29,72.98 388.81,72.34 389.33,71.61 389.85,70.81 390.37,69.91 390.89,68.94 391.41,67.89 391.93,66.76 392.45,65.58 392.97,64.36 393.49,63.11 394.01,61.86 394.53,60.61 395.05,59.40 395.57,58.23 396.09,57.12 396.61,56.08 397.13,55.12 397.65,54.25 398.17,53.45 398.69,52.74 399.21,52.12 399.73,51.56 400.25,51.08 400.77,50.65 401.29,50.29 401.82,49.97 402.34,49.70 402.86,49.47 403.38,49.28 403.90,49.11 404.42,48.97 404.94,48.85 405.46,48.74 405.98,48.66 406.50,48.58 407.02,48.52 407.54,48.47 408.06,48.43 408.58,48.39 409.10,48.36 409.62,48.33 410.14,48.31 410.66,48.29 411.18,48.28 411.70,48.26 412.22,48.25 412.74,48.24 413.26,48.24 413.78,48.23 414.30,48.22" fill="none" stroke="#ee6a6a" stroke-width="0.6"/>
<path d="M362.80,75.53L364.25,78.03L361.35,78.03Z" fill="#c83838"/>
<path d="M373.10,74.59L374.55,77.09L371.65,77.09Z" fill="#c83838"/>
<path d="M383.40,75.99L384.85,78.49L381.95,78.49Z" fill="#c83838"/>
<path d="M393.70,62.04L395.15,64.54L392.25,64.54Z" fill="#c83838"/>
<path d="M404.00,50.41L405.45,52.91L402.55,52.91Z" fill="#c83838"/>
<path d="M414.30,46.70L415.75,49.20L412.85,49.20Z" fill="#c83838"/>
<polyline points="362.80,83.53 363.32,83.53 363.84,83.53 364.36,83.53 364.88,83.53 365.40,83.53 365.92,83.53 366.44,83.53 366.96,83.53 367.48,83.53 368.00,83.53 368.52,83.53 369.04,83.53 369.56,83.53 370.08,83.53 370.60,83.53 371.12,83.53 371.64,83.53 372.16,83.53 372.68,83.53 373.20,83.52 373.72,83.52 374.24,83.52 374.76,83.51 375.28,83.51 375.81,83.50 376.33,83.49 376.85,83.48 377.37,83.46 377.89,83.44 378.41,83.42 378.93,83.39 379.45,83.35 379.97,83.30 380.49,83.24 381.01,83.16 381.53,83.07 382.05,82.96 382.57,82.82 383.09,82.64 383.61,82.43 384.13,82.18 384.65,81.87 385.17,81.52 385.69,81.11 386.21,80.63 386.73,80.11 387.25,79.53 387.77,78.92 388.29,78.28 388.81,77.63 389.33,76.99 389.85,76.38 390.37,75.80 390.89,75.28 391.41,74.80 391.93,74.39 392.45,74.04 392.97,73.73 393.49,73.48 394.01,73.27 394.53,73.09 395.05,72.95 395.57,72.84 396.09,72.75 396.61,72.67 397.13,72.61 397.65,72.56 398.17,72.52 398.69,72.49 399.21,72.47 399.73,72.45 400.25,72.43 400.77,72.42 401.29,72.41 401.82,72.40 402.34,72.40 402.86,72.39 403.38,72.39 403.90,72.39 404.42,72.38 404.94,72.38 405.46,72.38 405.98,72.38 406.50,72.38 407.02,72.38 407.54,72.38 408.06,72.38 408.58,72.38 409.10,72.38 409.62,72.38 410.14,72.38 410.66,72.38 411.18,72.38 411.70,72.38 412.22,72.38 412.74,72.38 413.26,72.38 413.78,72.38 414.30,72.38" fill="none" stroke="#5a5af0" stroke-width="0.6"/>
<rect x="361.50" y="82.70" width="2.6" height="2.6" fill="#1a1aa8"/>
<rect x="371.80" y="82.23" width="2.6" height="2.6" fill="#1a1aa8"/>
<rect x="382.10" y="80.61" width="2.6" height="2.6" fill="#1a1aa8"/>
<rect x="392.40" y="72.94" width="2.6" height="2.6" fill="#1a1aa8"/>
<rect x="402.70" y="72.01" width="2.6" height="2.6" fill="#1a1aa8"/>
<rect x="413.00" y="70.14" width="2.6" height="2.6" fill="#1a1aa8"/>
<polyline points="362.80,77.02 363.32,77.02 363.84,77.01 364.36,77.01 364.88,77.01 365.40,77.01 365.92,77.00 366.44,77.00 366.96,76.99 367.48,76.99 368.00,76.98 368.52,76.97 369.04,76.96 369.56,76.95 370.08,76.93 370.60,76.91 371.12,76.89 371.64,76.87 372.16,76.84 372.68,76.80 373.20,76.76 373.72,76.71 374.24,76.65 374.76,76.58 375.28,76.50 375.81,76.40 376.33,76.28 376.85,76.14 377.37,75.98 377.89,75.78 378.41,75.55 378.93,75.29 379.45,74.97 379.97,74.61 380.49,74.18 381.01,73.69 381.53,73.11 382.05,72.46 382.57,71.71 383.09,70.85 383.61,69.89 384.13,68.82 384.65,67.64 385.17,66.35 385.69,64.95 386.21,63.46 386.73,61.89 387.25,60.25 387.77,58.59 388.29,56.90 388.81,55.23 389.33,53.60 389.85,52.03 390.37,50.53 390.89,49.13 391.41,47.84 391.93,46.65 392.45,45.58 392.97,44.62 393.49,43.77 394.01,43.01 394.53,42.35 395.05,41.78 395.57,41.28 396.09,40.86 396.61,40.49 397.13,40.17 397.65,39.91 398.17,39.68 398.69,39.48 399.21,39.32 399.73,39.18 400.25,39.06 400.77,38.96 401.29,38.88 401.82,38.81 402.34,38.75 402.86,38.70 403.38,38.65 403.90,38.62 404.42,38.59 404.94,38.56 405.46,38.54 405.98,38.52 406.50,38.51 407.02,38.50 407.54,38.49 408.06,38.48 408.58,38.47 409.10,38.46 409.62,38.46 410.14,38.45 410.66,38.45 411.18,38.45 411.70,38.44 412.22,38.44 412.74,38.44 413.26,38.44 413.78,38.44 414.30,38.44" fill="none" stroke="#4a4a4a" stroke-width="0.6"/>
<path d="M361.35,79.75L364.25,79.75L362.80,82.25Z" fill="#111"/>
<path d="M371.65,70.44L374.55,70.44L373.10,72.94Z" fill="#111"/>
<path d="M381.95,65.80L384.85,65.80L383.40,68.30Z" fill="#111"/>
<path d="M392.25,43.01L395.15,43.01L393.70,45.51Z" fill="#111"/>
<path d="M402.55,37.90L405.45,37.90L404.00,40.40Z" fill="#111"/>
<path d="M412.85,37.90L415.75,37.90L414.30,40.40Z" fill="#111"/>
<line x1="36.00" y1="153.97" x2="113.70" y2="153.97" stroke="#b0b0b0" stroke-width="0.9"/>
<line x1="36.00" y1="165.60" x2="113.70" y2="165.60" stroke="#b0b0b0" stroke-width="0.9"/>
<line x1="36.00" y1="118.70" x2="36.00" y2="165.60" stroke="#1a1a1a" stroke-width="0.9"/>
<line x1="33.90" y1="119.10" x2="36.00" y2="119.10" stroke="#1a1a1a" stroke-width="0.8"/>
<text x="33.75" y="120.40" transform="rotate(0.05 33.75 120.40)" class="yt">1.00</text>
<line x1="33.90" y1="130.72" x2="36.00" y2="130.72" stroke="#1a1a1a" stroke-width="0.8"/>
<text x="33.75" y="132.03" transform="rotate(0.05 33.75 132.03)" class="yt">0.75</text>
<line x1="33.90" y1="142.35" x2="36.00" y2="142.35" stroke="#1a1a1a" stroke-width="0.8"/>
<text x="33.75" y="143.65" transform="rotate(0.05 33.75 143.65)" class="yt">0.50</text>
<line x1="33.90" y1="153.97" x2="36.00" y2="153.97" stroke="#1a1a1a" stroke-width="0.8"/>
<text x="33.75" y="155.28" transform="rotate(0.05 33.75 155.28)" class="yt">0.25</text>
<line x1="33.90" y1="165.60" x2="36.00" y2="165.60" stroke="#1a1a1a" stroke-width="0.8"/>
<text x="33.75" y="166.90" transform="rotate(0.05 33.75 166.90)" class="yt">0.00</text>
<line x1="40.60" y1="171.00" x2="113.50" y2="171.00" stroke="#1a1a1a" stroke-width="0.9"/>
<line x1="41.00" y1="171.00" x2="41.00" y2="172.60" stroke="#1a1a1a" stroke-width="0.8"/>
<text x="40.85" y="176.95" transform="rotate(0.05 40.85 176.95)" class="xt">-5</text>
<line x1="51.30" y1="171.00" x2="51.30" y2="172.60" stroke="#1a1a1a" stroke-width="0.8"/>
<text x="51.15" y="176.95" transform="rotate(0.05 51.15 176.95)" class="xt">-4</text>
<line x1="61.60" y1="171.00" x2="61.60" y2="172.60" stroke="#1a1a1a" stroke-width="0.8"/>
<text x="61.45" y="176.95" transform="rotate(0.05 61.45 176.95)" class="xt">-3</text>
<line x1="71.90" y1="171.00" x2="71.90" y2="172.60" stroke="#1a1a1a" stroke-width="0.8"/>
<text x="71.75" y="176.95" transform="rotate(0.05 71.75 176.95)" class="xt">-2</text>
<line x1="82.20" y1="171.00" x2="82.20" y2="172.60" stroke="#1a1a1a" stroke-width="0.8"/>
<text x="82.05" y="176.95" transform="rotate(0.05 82.05 176.95)" class="xt">-1</text>
<line x1="92.50" y1="171.00" x2="92.50" y2="172.60" stroke="#1a1a1a" stroke-width="0.8"/>
<text x="92.35" y="176.95" transform="rotate(0.05 92.35 176.95)" class="xt">0</text>
<line x1="102.80" y1="171.00" x2="102.80" y2="172.60" stroke="#1a1a1a" stroke-width="0.8"/>
<text x="102.65" y="176.95" transform="rotate(0.05 102.65 176.95)" class="xt">1</text>
<line x1="113.10" y1="171.00" x2="113.10" y2="172.60" stroke="#1a1a1a" stroke-width="0.8"/>
<text x="112.95" y="176.95" transform="rotate(0.05 112.95 176.95)" class="xt">2</text>
<text x="74.20" y="113.67" transform="rotate(0.05 74.20 113.67)" class="ttl">ALL-SIL</text>
<text x="41.25" y="123.20" transform="rotate(0.05 41.25 123.20)" class="ci">CI (ED50) = 0.019</text>
<path d="M51.30,153.51V161.88M50.60,153.51H52.00M50.60,161.88H52.00" stroke="#ee6a6a" stroke-width="0.45" fill="none"/>
<path d="M61.60,152.11V158.62M60.90,152.11H62.30M60.90,158.62H62.30" stroke="#ee6a6a" stroke-width="0.45" fill="none"/>
<path d="M71.90,149.32V158.62M71.20,149.32H72.60M71.20,158.62H72.60" stroke="#ee6a6a" stroke-width="0.45" fill="none"/>
<path d="M82.20,137.70V147.00M81.50,137.70H82.90M81.50,147.00H82.90" stroke="#ee6a6a" stroke-width="0.45" fill="none"/>
<path d="M92.50,133.51V139.09M91.80,133.51H93.20M91.80,139.09H93.20" stroke="#ee6a6a" stroke-width="0.45" fill="none"/>
<path d="M102.80,131.19V137.70M102.10,131.19H103.50M102.10,137.70H103.50" stroke="#ee6a6a" stroke-width="0.45" fill="none"/>
<polyline points="51.30,156.86 51.82,156.86 52.34,156.85 52.86,156.84 53.38,156.84 53.90,156.83 54.42,156.82 54.94,156.81 55.46,156.80 55.98,156.79 56.50,156.78 57.02,156.76 57.54,156.74 58.06,156.72 58.58,156.70 59.10,156.68 59.62,156.65 60.14,156.62 60.66,156.59 61.18,156.55 61.70,156.51 62.22,156.46 62.74,156.41 63.26,156.35 63.78,156.28 64.31,156.21 64.83,156.12 65.35,156.03 65.87,155.93 66.39,155.81 66.91,155.69 67.43,155.54 67.95,155.39 68.47,155.21 68.99,155.02 69.51,154.81 70.03,154.58 70.55,154.33 71.07,154.05 71.59,153.74 72.11,153.41 72.63,153.06 73.15,152.67 73.67,152.25 74.19,151.81 74.71,151.33 75.23,150.83 75.75,150.30 76.27,149.75 76.79,149.17 77.31,148.57 77.83,147.95 78.35,147.32 78.87,146.68 79.39,146.03 79.91,145.38 80.43,144.73 80.95,144.09 81.47,143.46 81.99,142.85 82.51,142.25 83.03,141.68 83.55,141.13 84.07,140.61 84.59,140.11 85.11,139.64 85.63,139.21 86.15,138.80 86.67,138.42 87.19,138.07 87.71,137.74 88.23,137.45 88.75,137.17 89.27,136.93 89.79,136.70 90.32,136.49 90.84,136.31 91.36,136.14 91.88,135.98 92.40,135.85 92.92,135.72 93.44,135.61 93.96,135.51 94.48,135.42 95.00,135.34 95.52,135.27 96.04,135.20 96.56,135.15 97.08,135.09 97.60,135.05 98.12,135.01 98.64,134.97 99.16,134.94 99.68,134.91 100.20,134.88 100.72,134.86 101.24,134.84 101.76,134.82 102.28,134.80 102.80,134.79" fill="none" stroke="#ee6a6a" stroke-width="0.6"/>
<path d="M51.30,156.19L52.75,158.69L49.85,158.69Z" fill="#c83838"/>
<path d="M61.60,153.87L63.05,156.37L60.15,156.37Z" fill="#c83838"/>
<path d="M71.90,152.47L73.35,154.97L70.45,154.97Z" fill="#c83838"/>
<path d="M82.20,140.85L83.65,143.35L80.75,143.35Z" fill="#c83838"/>
<path d="M92.50,134.81L93.95,137.31L91.05,137.31Z" fill="#c83838"/>
<path d="M102.80,132.94L104.25,135.44L101.35,135.44Z" fill="#c83838"/>
<polyline points="51.30,156.66 51.82,156.64 52.34,156.62 52.86,156.60 53.38,156.57 53.90,156.55 54.42,156.52 54.94,156.49 55.46,156.45 55.98,156.42 56.50,156.38 57.02,156.33 57.54,156.29 58.06,156.23 58.58,156.18 59.10,156.12 59.62,156.05 60.14,155.98 60.66,155.90 61.18,155.81 61.70,155.72 62.22,155.62 62.74,155.51 63.26,155.40 63.78,155.27 64.31,155.14 64.83,154.99 65.35,154.84 65.87,154.67 66.39,154.49 66.91,154.30 67.43,154.09 67.95,153.88 68.47,153.64 68.99,153.40 69.51,153.14 70.03,152.86 70.55,152.57 71.07,152.27 71.59,151.95 72.11,151.62 72.63,151.27 73.15,150.91 73.67,150.54 74.19,150.16 74.71,149.77 75.23,149.37 75.75,148.96 76.27,148.54 76.79,148.12 77.31,147.70 77.83,147.27 78.35,146.84 78.87,146.42 79.39,146.00 79.91,145.59 80.43,145.18 80.95,144.78 81.47,144.39 81.99,144.01 82.51,143.64 83.03,143.29 83.55,142.94 84.07,142.61 84.59,142.30 85.11,142.00 85.63,141.71 86.15,141.44 86.67,141.19 87.19,140.94 87.71,140.72 88.23,140.50 88.75,140.30 89.27,140.11 89.79,139.94 90.32,139.77 90.84,139.62 91.36,139.48 91.88,139.34 92.40,139.22 92.92,139.11 93.44,139.00 93.96,138.90 94.48,138.81 95.00,138.73 95.52,138.65 96.04,138.58 96.56,138.52 97.08,138.46 97.60,138.40 98.12,138.35 98.64,138.30 99.16,138.26 99.68,138.22 100.20,138.18 100.72,138.15 101.24,138.12 101.76,138.09 102.28,138.07 102.80,138.04" fill="none" stroke="#5a5af0" stroke-width="0.6"/>
<rect x="50.00" y="155.93" width="2.6" height="2.6" fill="#1a1aa8"/>
<rect x="60.30" y="153.60" width="2.6" height="2.6" fill="#1a1aa8"/>
<rect x="70.60" y="150.81" width="2.6" height="2.6" fill="#1a1aa8"/>
<rect x="80.90" y="142.44" width="2.6" height="2.6" fill="#1a1aa8"/>
<rect x="91.20" y="137.79" width="2.6" height="2.6" fill="#1a1aa8"/>
<rect x="101.50" y="136.86" width="2.6" height="2.6" fill="#1a1aa8"/>
<polyline points="51.30,151.71 51.82,151.59 52.34,151.46 52.86,151.33 53.38,151.19 53.90,151.04 54.42,150.89 54.94,150.73 55.46,150.57 55.98,150.39 56.50,150.21 57.02,150.02 57.54,149.82 58.06,149.62 58.58,149.41 59.10,149.18 59.62,148.95 60.14,148.71 60.66,148.46 61.18,148.20 61.70,147.94 62.22,147.66 62.74,147.37 63.26,147.07 63.78,146.77 64.31,146.45 64.83,146.12 65.35,145.79 65.87,145.44 66.39,145.08 66.91,144.72 67.43,144.35 67.95,143.96 68.47,143.57 68.99,143.17 69.51,142.76 70.03,142.34 70.55,141.92 71.07,141.48 71.59,141.04 72.11,140.60 72.63,140.15 73.15,139.69 73.67,139.23 74.19,138.77 74.71,138.30 75.23,137.83 75.75,137.36 76.27,136.89 76.79,136.41 77.31,135.94 77.83,135.47 78.35,134.99 78.87,134.53 79.39,134.06 79.91,133.60 80.43,133.14 80.95,132.68 81.47,132.23 81.99,131.79 82.51,131.35 83.03,130.92 83.55,130.50 84.07,130.09 84.59,129.68 85.11,129.28 85.63,128.89 86.15,128.51 86.67,128.14 87.19,127.77 87.71,127.42 88.23,127.08 88.75,126.74 89.27,126.42 89.79,126.11 90.32,125.80 90.84,125.51 91.36,125.22 91.88,124.95 92.40,124.68 92.92,124.43 93.44,124.18 93.96,123.94 94.48,123.71 95.00,123.50 95.52,123.28 96.04,123.08 96.56,122.89 97.08,122.70 97.60,122.52 98.12,122.35 98.64,122.18 99.16,122.03 99.68,121.88 100.20,121.73 100.72,121.60 101.24,121.46 101.76,121.34 102.28,121.22 102.80,121.10" fill="none" stroke="#4a4a4a" stroke-width="0.6"/>
<path d="M49.85,151.12L52.75,151.12L51.30,153.62Z" fill="#111"/>
<path d="M60.15,146.00L63.05,146.00L61.60,148.50Z" fill="#111"/>
<path d="M70.45,140.88L73.35,140.88L71.90,143.38Z" fill="#111"/>
<path d="M80.75,129.72L83.65,129.72L82.20,132.22Z" fill="#111"/>
<path d="M91.05,124.14L93.95,124.14L92.50,126.64Z" fill="#111"/>
<path d="M101.35,119.96L104.25,119.96L102.80,122.46Z" fill="#111"/>
<line x1="139.30" y1="157.28" x2="217.10" y2="157.28" stroke="#b0b0b0" stroke-width="0.9"/>
<line x1="139.30" y1="166.00" x2="217.10" y2="166.00" stroke="#b0b0b0" stroke-width="0.9"/>
<line x1="139.30" y1="122.00" x2="139.30" y2="169.40" stroke="#1a1a1a" stroke-width="0.9"/>
<line x1="137.20" y1="122.40" x2="139.30" y2="122.40" stroke="#1a1a1a" stroke-width="0.8"/>
<text x="137.05" y="123.70" transform="rotate(0.05 137.05 123.70)" class="yt">1.25</text>
<line x1="137.20" y1="131.12" x2="139.30" y2="131.12" stroke="#1a1a1a" stroke-width="0.8"/>
<text x="137.05" y="132.42" transform="rotate(0.05 137.05 132.42)" class="yt">1.00</text>
<line x1="137.20" y1="139.84" x2="139.30" y2="139.84" stroke="#1a1a1a" stroke-width="0.8"/>
<text x="137.05" y="141.14" transform="rotate(0.05 137.05 141.14)" class="yt">0.75</text>
<line x1="137.20" y1="148.56" x2="139.30" y2="148.56" stroke="#1a1a1a" stroke-width="0.8"/>
<text x="137.05" y="149.86" transform="rotate(0.05 137.05 149.86)" class="yt">0.50</text>
<line x1="137.20" y1="157.28" x2="139.30" y2="157.28" stroke="#1a1a1a" stroke-width="0.8"/>
<text x="137.05" y="158.58" transform="rotate(0.05 137.05 158.58)" class="yt">0.25</text>
<line x1="137.20" y1="166.00" x2="139.30" y2="166.00" stroke="#1a1a1a" stroke-width="0.8"/>
<text x="137.05" y="167.30" transform="rotate(0.05 137.05 167.30)" class="yt">0.00</text>
<line x1="144.00" y1="174.40" x2="216.90" y2="174.40" stroke="#1a1a1a" stroke-width="0.9"/>
<line x1="144.40" y1="174.40" x2="144.40" y2="176.00" stroke="#1a1a1a" stroke-width="0.8"/>
<text x="144.25" y="180.35" transform="rotate(0.05 144.25 180.35)" class="xt">-5</text>
<line x1="154.70" y1="174.40" x2="154.70" y2="176.00" stroke="#1a1a1a" stroke-width="0.8"/>
<text x="154.55" y="180.35" transform="rotate(0.05 154.55 180.35)" class="xt">-4</text>
<line x1="165.00" y1="174.40" x2="165.00" y2="176.00" stroke="#1a1a1a" stroke-width="0.8"/>
<text x="164.85" y="180.35" transform="rotate(0.05 164.85 180.35)" class="xt">-3</text>
<line x1="175.30" y1="174.40" x2="175.30" y2="176.00" stroke="#1a1a1a" stroke-width="0.8"/>
<text x="175.15" y="180.35" transform="rotate(0.05 175.15 180.35)" class="xt">-2</text>
<line x1="185.60" y1="174.40" x2="185.60" y2="176.00" stroke="#1a1a1a" stroke-width="0.8"/>
<text x="185.45" y="180.35" transform="rotate(0.05 185.45 180.35)" class="xt">-1</text>
<line x1="195.90" y1="174.40" x2="195.90" y2="176.00" stroke="#1a1a1a" stroke-width="0.8"/>
<text x="195.75" y="180.35" transform="rotate(0.05 195.75 180.35)" class="xt">0</text>
<line x1="206.20" y1="174.40" x2="206.20" y2="176.00" stroke="#1a1a1a" stroke-width="0.8"/>
<text x="206.05" y="180.35" transform="rotate(0.05 206.05 180.35)" class="xt">1</text>
<line x1="216.50" y1="174.40" x2="216.50" y2="176.00" stroke="#1a1a1a" stroke-width="0.8"/>
<text x="216.35" y="180.35" transform="rotate(0.05 216.35 180.35)" class="xt">2</text>
<text x="176.75" y="116.77" transform="rotate(0.05 176.75 116.77)" class="ttl">KOPT-K1</text>
<text x="144.40" y="126.30" transform="rotate(0.05 144.40 126.30)" class="ci">CI (ED50) = 0.0003</text>
<path d="M154.70,147.51V151.00M154.00,147.51H155.40M154.00,151.00H155.40" stroke="#4a4a4a" stroke-width="0.45" fill="none"/>
<path d="M165.00,146.47V153.44M164.30,146.47H165.70M164.30,153.44H165.70" stroke="#ee6a6a" stroke-width="0.45" fill="none"/>
<path d="M154.70,153.79V156.58M154.00,153.79H155.40M154.00,156.58H155.40" stroke="#ee6a6a" stroke-width="0.45" fill="none"/>
<path d="M165.00,156.58V160.07M164.30,156.58H165.70M164.30,160.07H165.70" stroke="#5a5af0" stroke-width="0.45" fill="none"/>
<polyline points="154.70,155.52 155.22,155.51 155.74,155.50 156.26,155.49 156.78,155.48 157.30,155.46 157.82,155.43 158.34,155.39 158.86,155.34 159.38,155.28 159.90,155.20 160.42,155.08 160.94,154.93 161.46,154.74 161.98,154.48 162.50,154.14 163.02,153.71 163.54,153.15 164.06,152.44 164.58,151.56 165.10,150.49 165.62,149.22 166.14,147.75 166.66,146.11 167.18,144.34 167.71,142.52 168.23,140.72 168.75,139.01 169.27,137.45 169.79,136.08 170.31,134.91 170.83,133.93 171.35,133.14 171.87,132.51 172.39,132.02 172.91,131.64 173.43,131.34 173.95,131.12 174.47,130.94 174.99,130.81 175.51,130.72 176.03,130.64 176.55,130.59 177.07,130.55 177.59,130.52 178.11,130.49 178.63,130.47 179.15,130.46 179.67,130.45 180.19,130.44 180.71,130.44 181.23,130.43 181.75,130.43 182.27,130.43 182.79,130.43 183.31,130.43 183.83,130.43 184.35,130.42 184.87,130.42 185.39,130.42 185.91,130.42 186.43,130.42 186.95,130.42 187.47,130.42 187.99,130.42 188.51,130.42 189.03,130.42 189.55,130.42 190.07,130.42 190.59,130.42 191.11,130.42 191.63,130.42 192.15,130.42 192.67,130.42 193.19,130.42 193.72,130.42 194.24,130.42 194.76,130.42 195.28,130.42 195.80,130.42 196.32,130.42 196.84,130.42 197.36,130.42 197.88,130.42 198.40,130.42 198.92,130.42 199.44,130.42 199.96,130.42 200.48,130.42 201.00,130.42 201.52,130.42 202.04,130.42 202.56,130.42 203.08,130.42 203.60,130.42 204.12,130.42 204.64,130.42 205.16,130.42 205.68,130.42 206.20,130.42" fill="none" stroke="#ee6a6a" stroke-width="0.6"/>
<path d="M154.70,153.69L156.15,156.19L153.25,156.19Z" fill="#c83838"/>
<path d="M165.00,148.46L166.45,150.96L163.55,150.96Z" fill="#c83838"/>
<path d="M175.30,129.62L176.75,132.12L173.85,132.12Z" fill="#c83838"/>
<path d="M185.60,128.92L187.05,131.42L184.15,131.42Z" fill="#c83838"/>
<path d="M195.90,128.92L197.35,131.42L194.45,131.42Z" fill="#c83838"/>
<path d="M206.20,128.92L207.65,131.42L204.75,131.42Z" fill="#c83838"/>
<polyline points="154.70,165.99 155.22,165.82 155.74,165.63 156.26,165.43 156.78,165.21 157.30,164.97 157.82,164.71 158.34,164.42 158.86,164.11 159.38,163.77 159.90,163.41 160.42,163.02 160.94,162.60 161.46,162.15 161.98,161.68 162.50,161.17 163.02,160.64 163.54,160.07 164.06,159.48 164.58,158.87 165.10,158.23 165.62,157.58 166.14,156.90 166.66,156.21 167.18,155.52 167.71,154.81 168.23,154.11 168.75,153.40 169.27,152.70 169.79,152.01 170.31,151.33 170.83,150.67 171.35,150.03 171.87,149.42 172.39,148.82 172.91,148.26 173.43,147.72 173.95,147.21 174.47,146.73 174.99,146.28 175.51,145.85 176.03,145.46 176.55,145.09 177.07,144.75 177.59,144.44 178.11,144.15 178.63,143.88 179.15,143.64 179.67,143.41 180.19,143.21 180.71,143.02 181.23,142.85 181.75,142.69 182.27,142.55 182.79,142.42 183.31,142.31 183.83,142.20 184.35,142.11 184.87,142.02 185.39,141.94 185.91,141.87 186.43,141.81 186.95,141.75 187.47,141.70 187.99,141.66 188.51,141.61 189.03,141.58 189.55,141.54 190.07,141.51 190.59,141.48 191.11,141.46 191.63,141.44 192.15,141.42 192.67,141.40 193.19,141.38 193.72,141.37 194.24,141.35 194.76,141.34 195.28,141.33 195.80,141.32 196.32,141.31 196.84,141.30 197.36,141.30 197.88,141.29 198.40,141.29 198.92,141.28 199.44,141.28 199.96,141.27 200.48,141.27 201.00,141.27 201.52,141.26 202.04,141.26 202.56,141.26 203.08,141.26 203.60,141.25 204.12,141.25 204.64,141.25 205.16,141.25 205.68,141.25 206.20,141.25" fill="none" stroke="#5a5af0" stroke-width="0.6"/>
<rect x="153.40" y="164.70" width="2.6" height="2.6" fill="#1a1aa8"/>
<rect x="163.70" y="157.03" width="2.6" height="2.6" fill="#1a1aa8"/>
<rect x="174.00" y="144.82" width="2.6" height="2.6" fill="#1a1aa8"/>
<rect x="184.30" y="140.28" width="2.6" height="2.6" fill="#1a1aa8"/>
<rect x="194.60" y="140.28" width="2.6" height="2.6" fill="#1a1aa8"/>
<rect x="204.90" y="139.94" width="2.6" height="2.6" fill="#1a1aa8"/>
<polyline points="154.70,154.46 155.22,154.04 155.74,153.47 156.26,152.70 156.78,151.70 157.30,150.42 157.82,148.86 158.34,147.01 158.86,144.96 159.38,142.78 159.90,140.62 160.42,138.59 160.94,136.80 161.46,135.28 161.98,134.06 162.50,133.10 163.02,132.37 163.54,131.83 164.06,131.43 164.58,131.14 165.10,130.94 165.62,130.79 166.14,130.68 166.66,130.61 167.18,130.55 167.71,130.51 168.23,130.49 168.75,130.47 169.27,130.45 169.79,130.45 170.31,130.44 170.83,130.43 171.35,130.43 171.87,130.43 172.39,130.43 172.91,130.43 173.43,130.42 173.95,130.42 174.47,130.42 174.99,130.42 175.51,130.42 176.03,130.42 176.55,130.42 177.07,130.42 177.59,130.42 178.11,130.42 178.63,130.42 179.15,130.42 179.67,130.42 180.19,130.42 180.71,130.42 181.23,130.42 181.75,130.42 182.27,130.42 182.79,130.42 183.31,130.42 183.83,130.42 184.35,130.42 184.87,130.42 185.39,130.42 185.91,130.42 186.43,130.42 186.95,130.42 187.47,130.42 187.99,130.42 188.51,130.42 189.03,130.42 189.55,130.42 190.07,130.42 190.59,130.42 191.11,130.42 191.63,130.42 192.15,130.42 192.67,130.42 193.19,130.42 193.72,130.42 194.24,130.42 194.76,130.42 195.28,130.42 195.80,130.42 196.32,130.42 196.84,130.42 197.36,130.42 197.88,130.42 198.40,130.42 198.92,130.42 199.44,130.42 199.96,130.42 200.48,130.42 201.00,130.42 201.52,130.42 202.04,130.42 202.56,130.42 203.08,130.42 203.60,130.42 204.12,130.42 204.64,130.42 205.16,130.42 205.68,130.42 206.20,130.42" fill="none" stroke="#4a4a4a" stroke-width="0.6"/>
<path d="M153.25,148.26L156.15,148.26L154.70,150.76Z" fill="#111"/>
<path d="M163.55,129.42L166.45,129.42L165.00,131.92Z" fill="#111"/>
<path d="M173.85,129.42L176.75,129.42L175.30,131.92Z" fill="#111"/>
<path d="M184.15,129.42L187.05,129.42L185.60,131.92Z" fill="#111"/>
<path d="M194.45,129.42L197.35,129.42L195.90,131.92Z" fill="#111"/>
<path d="M204.75,129.42L207.65,129.42L206.20,131.92Z" fill="#111"/>
<line x1="242.50" y1="153.75" x2="320.70" y2="153.75" stroke="#b0b0b0" stroke-width="0.9"/>
<line x1="242.50" y1="165.30" x2="320.70" y2="165.30" stroke="#b0b0b0" stroke-width="0.9"/>
<line x1="242.50" y1="118.70" x2="242.50" y2="165.30" stroke="#1a1a1a" stroke-width="0.9"/>
<line x1="240.40" y1="119.10" x2="242.50" y2="119.10" stroke="#1a1a1a" stroke-width="0.8"/>
<text x="240.25" y="120.40" transform="rotate(0.05 240.25 120.40)" class="yt">1.00</text>
<line x1="240.40" y1="130.65" x2="242.50" y2="130.65" stroke="#1a1a1a" stroke-width="0.8"/>
<text x="240.25" y="131.95" transform="rotate(0.05 240.25 131.95)" class="yt">0.75</text>
<line x1="240.40" y1="142.20" x2="242.50" y2="142.20" stroke="#1a1a1a" stroke-width="0.8"/>
<text x="240.25" y="143.50" transform="rotate(0.05 240.25 143.50)" class="yt">0.50</text>
<line x1="240.40" y1="153.75" x2="242.50" y2="153.75" stroke="#1a1a1a" stroke-width="0.8"/>
<text x="240.25" y="155.05" transform="rotate(0.05 240.25 155.05)" class="yt">0.25</text>
<line x1="240.40" y1="165.30" x2="242.50" y2="165.30" stroke="#1a1a1a" stroke-width="0.8"/>
<text x="240.25" y="166.60" transform="rotate(0.05 240.25 166.60)" class="yt">0.00</text>
<line x1="247.60" y1="170.50" x2="320.50" y2="170.50" stroke="#1a1a1a" stroke-width="0.9"/>
<line x1="248.00" y1="170.50" x2="248.00" y2="172.10" stroke="#1a1a1a" stroke-width="0.8"/>
<text x="247.85" y="176.45" transform="rotate(0.05 247.85 176.45)" class="xt">-5</text>
<line x1="258.30" y1="170.50" x2="258.30" y2="172.10" stroke="#1a1a1a" stroke-width="0.8"/>
<text x="258.15" y="176.45" transform="rotate(0.05 258.15 176.45)" class="xt">-4</text>
<line x1="268.60" y1="170.50" x2="268.60" y2="172.10" stroke="#1a1a1a" stroke-width="0.8"/>
<text x="268.45" y="176.45" transform="rotate(0.05 268.45 176.45)" class="xt">-3</text>
<line x1="278.90" y1="170.50" x2="278.90" y2="172.10" stroke="#1a1a1a" stroke-width="0.8"/>
<text x="278.75" y="176.45" transform="rotate(0.05 278.75 176.45)" class="xt">-2</text>
<line x1="289.20" y1="170.50" x2="289.20" y2="172.10" stroke="#1a1a1a" stroke-width="0.8"/>
<text x="289.05" y="176.45" transform="rotate(0.05 289.05 176.45)" class="xt">-1</text>
<line x1="299.50" y1="170.50" x2="299.50" y2="172.10" stroke="#1a1a1a" stroke-width="0.8"/>
<text x="299.35" y="176.45" transform="rotate(0.05 299.35 176.45)" class="xt">0</text>
<line x1="309.80" y1="170.50" x2="309.80" y2="172.10" stroke="#1a1a1a" stroke-width="0.8"/>
<text x="309.65" y="176.45" transform="rotate(0.05 309.65 176.45)" class="xt">1</text>
<line x1="320.10" y1="170.50" x2="320.10" y2="172.10" stroke="#1a1a1a" stroke-width="0.8"/>
<text x="319.95" y="176.45" transform="rotate(0.05 319.95 176.45)" class="xt">2</text>
<text x="281.25" y="113.02" transform="rotate(0.05 281.25 113.02)" class="ttl">JURKAT</text>
<path d="M258.30,146.82V157.91M257.60,146.82H259.00M257.60,157.91H259.00" stroke="#ee6a6a" stroke-width="0.45" fill="none"/>
<path d="M258.30,158.37V166.69M257.60,158.37H259.00M257.60,166.69H259.00" stroke="#5a5af0" stroke-width="0.45" fill="none"/>
<path d="M278.90,155.60V163.91M278.20,155.60H279.60M278.20,163.91H279.60" stroke="#5a5af0" stroke-width="0.45" fill="none"/>
<path d="M309.80,151.90V159.29M309.10,151.90H310.50M309.10,159.29H310.50" stroke="#5a5af0" stroke-width="0.45" fill="none"/>
<path d="M268.60,141.28V145.90M267.90,141.28H269.30M267.90,145.90H269.30" stroke="#4a4a4a" stroke-width="0.45" fill="none"/>
<path d="M299.50,156.06V159.76M298.80,156.06H300.20M298.80,159.76H300.20" stroke="#5a5af0" stroke-width="0.45" fill="none"/>
<polyline points="258.30,151.48 258.82,151.25 259.34,151.02 259.86,150.78 260.38,150.55 260.90,150.31 261.42,150.07 261.94,149.83 262.46,149.59 262.98,149.34 263.50,149.10 264.02,148.85 264.54,148.60 265.06,148.35 265.58,148.10 266.10,147.85 266.62,147.60 267.14,147.34 267.66,147.09 268.18,146.83 268.70,146.58 269.22,146.32 269.74,146.06 270.26,145.80 270.78,145.55 271.31,145.29 271.83,145.03 272.35,144.77 272.87,144.51 273.39,144.25 273.91,143.99 274.43,143.72 274.95,143.46 275.47,143.20 275.99,142.94 276.51,142.68 277.03,142.42 277.55,142.16 278.07,141.90 278.59,141.64 279.11,141.39 279.63,141.13 280.15,140.87 280.67,140.62 281.19,140.36 281.71,140.11 282.23,139.85 282.75,139.60 283.27,139.35 283.79,139.10 284.31,138.85 284.83,138.60 285.35,138.36 285.87,138.11 286.39,137.87 286.91,137.63 287.43,137.39 287.95,137.15 288.47,136.91 288.99,136.68 289.51,136.44 290.03,136.21 290.55,135.98 291.07,135.75 291.59,135.52 292.11,135.30 292.63,135.08 293.15,134.86 293.67,134.64 294.19,134.42 294.71,134.21 295.23,134.00 295.75,133.79 296.27,133.58 296.79,133.37 297.32,133.17 297.84,132.97 298.36,132.77 298.88,132.57 299.40,132.38 299.92,132.18 300.44,131.99 300.96,131.81 301.48,131.62 302.00,131.44 302.52,131.26 303.04,131.08 303.56,130.90 304.08,130.73 304.60,130.56 305.12,130.39 305.64,130.22 306.16,130.06 306.68,129.90 307.20,129.74 307.72,129.58 308.24,129.42 308.76,129.27 309.28,129.12 309.80,128.97" fill="none" stroke="#ee6a6a" stroke-width="0.6"/>
<path d="M258.30,150.86L259.75,153.36L256.85,153.36Z" fill="#c83838"/>
<path d="M268.60,143.47L270.05,145.97L267.15,145.97Z" fill="#c83838"/>
<path d="M278.90,139.78L280.35,142.28L277.45,142.28Z" fill="#c83838"/>
<path d="M289.20,137.00L290.65,139.50L287.75,139.50Z" fill="#c83838"/>
<path d="M299.50,130.07L300.95,132.57L298.05,132.57Z" fill="#c83838"/>
<path d="M309.80,127.30L311.25,129.80L308.35,129.80Z" fill="#c83838"/>
<polyline points="258.30,162.99 258.73,162.99 259.17,162.99 259.60,162.99 260.03,162.99 260.46,162.99 260.90,162.99 261.33,162.99 261.76,162.99 262.19,162.99 262.63,162.99 263.06,162.99 263.49,162.99 263.93,162.99 264.36,162.99 264.79,162.99 265.22,162.99 265.66,162.99 266.09,162.99 266.52,162.99 266.96,162.99 267.39,162.99 267.82,162.99 268.25,162.99 268.69,162.99 269.12,162.99 269.55,162.99 269.98,162.99 270.42,162.99 270.85,162.99 271.28,162.99 271.72,162.99 272.15,162.99 272.58,162.99 273.01,162.99 273.45,162.99 273.88,162.99 274.31,162.99 274.75,162.99 275.18,162.99 275.61,162.99 276.04,162.99 276.48,162.99 276.91,162.99 277.34,162.99 277.77,162.99 278.21,162.99 278.64,162.99 279.07,162.99 279.51,162.99 279.94,162.99 280.37,162.99 280.80,162.99 281.24,162.99 281.67,162.99 282.10,162.99 282.54,162.99 282.97,162.99 283.40,162.99 283.83,162.99 284.27,162.99 284.70,162.99 285.13,162.99 285.56,162.99 286.00,162.99 286.43,162.99 286.86,162.99 287.30,162.99 287.73,162.99 288.16,162.99 288.59,162.99 289.03,162.99 289.46,162.99 289.89,162.99 290.33,162.99 290.76,162.99 291.19,162.99 291.62,162.99 292.06,162.99 292.49,162.99 292.92,162.99 293.35,162.99 293.79,162.99 294.22,162.99 294.65,162.98 295.09,162.98 295.52,162.96 295.95,162.93 296.38,162.87 296.82,162.73 297.25,162.46 297.68,161.92 298.12,161.01 298.55,159.72 298.98,158.31 299.41,157.16 299.85,156.41 300.28,156.00 300.71,155.79 301.14,155.69 301.58,155.64 302.01,155.62 302.44,155.61 302.88,155.60 303.31,155.60 303.74,155.60 304.17,155.60 304.61,155.60 305.04,155.60 305.47,155.60 305.91,155.60 306.34,155.60 306.77,155.60 307.20,155.60 307.64,155.60 308.07,155.60 308.50,155.60 308.93,155.60 309.37,155.60 309.80,155.60" fill="none" stroke="#5a5af0" stroke-width="0.6"/>
<rect x="257.00" y="161.23" width="2.6" height="2.6" fill="#1a1aa8"/>
<rect x="267.30" y="161.92" width="2.6" height="2.6" fill="#1a1aa8"/>
<rect x="277.60" y="158.46" width="2.6" height="2.6" fill="#1a1aa8"/>
<rect x="287.90" y="162.15" width="2.6" height="2.6" fill="#1a1aa8"/>
<rect x="298.20" y="156.61" width="2.6" height="2.6" fill="#1a1aa8"/>
<rect x="308.50" y="154.30" width="2.6" height="2.6" fill="#1a1aa8"/>
<polyline points="258.30,151.97 258.82,151.61 259.34,151.25 259.86,150.89 260.38,150.52 260.90,150.16 261.42,149.79 261.94,149.42 262.46,149.06 262.98,148.69 263.50,148.32 264.02,147.95 264.54,147.58 265.06,147.21 265.58,146.84 266.10,146.47 266.62,146.10 267.14,145.73 267.66,145.36 268.18,144.99 268.70,144.62 269.22,144.25 269.74,143.88 270.26,143.52 270.78,143.15 271.31,142.79 271.83,142.42 272.35,142.06 272.87,141.70 273.39,141.34 273.91,140.98 274.43,140.62 274.95,140.27 275.47,139.91 275.99,139.56 276.51,139.21 277.03,138.86 277.55,138.52 278.07,138.17 278.59,137.83 279.11,137.49 279.63,137.15 280.15,136.82 280.67,136.48 281.19,136.15 281.71,135.83 282.23,135.50 282.75,135.18 283.27,134.86 283.79,134.54 284.31,134.23 284.83,133.92 285.35,133.61 285.87,133.30 286.39,133.00 286.91,132.70 287.43,132.40 287.95,132.11 288.47,131.82 288.99,131.53 289.51,131.25 290.03,130.97 290.55,130.69 291.07,130.42 291.59,130.15 292.11,129.88 292.63,129.61 293.15,129.35 293.67,129.10 294.19,128.84 294.71,128.59 295.23,128.34 295.75,128.10 296.27,127.86 296.79,127.62 297.32,127.38 297.84,127.15 298.36,126.92 298.88,126.70 299.40,126.48 299.92,126.26 300.44,126.04 300.96,125.83 301.48,125.62 302.00,125.42 302.52,125.22 303.04,125.02 303.56,124.82 304.08,124.63 304.60,124.44 305.12,124.25 305.64,124.07 306.16,123.89 306.68,123.71 307.20,123.54 307.72,123.37 308.24,123.20 308.76,123.03 309.28,122.87 309.80,122.71" fill="none" stroke="#4a4a4a" stroke-width="0.6"/>
<path d="M256.85,151.36L259.75,151.36L258.30,153.86Z" fill="#111"/>
<path d="M267.15,142.59L270.05,142.59L268.60,145.09Z" fill="#111"/>
<path d="M277.45,137.50L280.35,137.50L278.90,140.00Z" fill="#111"/>
<path d="M287.75,130.57L290.65,130.57L289.20,133.07Z" fill="#111"/>
<path d="M298.05,125.03L300.95,125.03L299.50,127.53Z" fill="#111"/>
<path d="M308.35,121.80L311.25,121.80L309.80,124.30Z" fill="#111"/>
<line x1="346.25" y1="153.75" x2="424.50" y2="153.75" stroke="#b0b0b0" stroke-width="0.9"/>
<line x1="346.25" y1="165.30" x2="424.50" y2="165.30" stroke="#b0b0b0" stroke-width="0.9"/>
<line x1="346.25" y1="118.70" x2="346.25" y2="165.30" stroke="#1a1a1a" stroke-width="0.9"/>
<line x1="344.15" y1="119.10" x2="346.25" y2="119.10" stroke="#1a1a1a" stroke-width="0.8"/>
<text x="344.00" y="120.40" transform="rotate(0.05 344.00 120.40)" class="yt">1.00</text>
<line x1="344.15" y1="130.65" x2="346.25" y2="130.65" stroke="#1a1a1a" stroke-width="0.8"/>
<text x="344.00" y="131.95" transform="rotate(0.05 344.00 131.95)" class="yt">0.75</text>
<line x1="344.15" y1="142.20" x2="346.25" y2="142.20" stroke="#1a1a1a" stroke-width="0.8"/>
<text x="344.00" y="143.50" transform="rotate(0.05 344.00 143.50)" class="yt">0.50</text>
<line x1="344.15" y1="153.75" x2="346.25" y2="153.75" stroke="#1a1a1a" stroke-width="0.8"/>
<text x="344.00" y="155.05" transform="rotate(0.05 344.00 155.05)" class="yt">0.25</text>
<line x1="344.15" y1="165.30" x2="346.25" y2="165.30" stroke="#1a1a1a" stroke-width="0.8"/>
<text x="344.00" y="166.60" transform="rotate(0.05 344.00 166.60)" class="yt">0.00</text>
<line x1="351.40" y1="170.30" x2="424.30" y2="170.30" stroke="#1a1a1a" stroke-width="0.9"/>
<line x1="351.80" y1="170.30" x2="351.80" y2="171.90" stroke="#1a1a1a" stroke-width="0.8"/>
<text x="351.65" y="176.25" transform="rotate(0.05 351.65 176.25)" class="xt">-5</text>
<line x1="362.10" y1="170.30" x2="362.10" y2="171.90" stroke="#1a1a1a" stroke-width="0.8"/>
<text x="361.95" y="176.25" transform="rotate(0.05 361.95 176.25)" class="xt">-4</text>
<line x1="372.40" y1="170.30" x2="372.40" y2="171.90" stroke="#1a1a1a" stroke-width="0.8"/>
<text x="372.25" y="176.25" transform="rotate(0.05 372.25 176.25)" class="xt">-3</text>
<line x1="382.70" y1="170.30" x2="382.70" y2="171.90" stroke="#1a1a1a" stroke-width="0.8"/>
<text x="382.55" y="176.25" transform="rotate(0.05 382.55 176.25)" class="xt">-2</text>
<line x1="393.00" y1="170.30" x2="393.00" y2="171.90" stroke="#1a1a1a" stroke-width="0.8"/>
<text x="392.85" y="176.25" transform="rotate(0.05 392.85 176.25)" class="xt">-1</text>
<line x1="403.30" y1="170.30" x2="403.30" y2="171.90" stroke="#1a1a1a" stroke-width="0.8"/>
<text x="403.15" y="176.25" transform="rotate(0.05 403.15 176.25)" class="xt">0</text>
<line x1="413.60" y1="170.30" x2="413.60" y2="171.90" stroke="#1a1a1a" stroke-width="0.8"/>
<text x="413.45" y="176.25" transform="rotate(0.05 413.45 176.25)" class="xt">1</text>
<line x1="423.90" y1="170.30" x2="423.90" y2="171.90" stroke="#1a1a1a" stroke-width="0.8"/>
<text x="423.75" y="176.25" transform="rotate(0.05 423.75 176.25)" class="xt">2</text>
<text x="385.30" y="113.02" transform="rotate(0.05 385.30 113.02)" class="ttl">PEER</text>
<path d="M362.10,149.13V160.22M361.40,149.13H362.80M361.40,160.22H362.80" stroke="#ee6a6a" stroke-width="0.45" fill="none"/>
<path d="M372.40,146.82V156.98M371.70,146.82H373.10M371.70,156.98H373.10" stroke="#ee6a6a" stroke-width="0.45" fill="none"/>
<path d="M382.70,142.66V151.90M382.00,142.66H383.40M382.00,151.90H383.40" stroke="#ee6a6a" stroke-width="0.45" fill="none"/>
<path d="M393.00,133.42V138.97M392.30,133.42H393.70M392.30,138.97H393.70" stroke="#ee6a6a" stroke-width="0.45" fill="none"/>
<path d="M413.60,128.80V132.50M412.90,128.80H414.30M412.90,132.50H414.30" stroke="#ee6a6a" stroke-width="0.45" fill="none"/>
<path d="M372.40,162.30V165.07M371.70,162.30H373.10M371.70,165.07H373.10" stroke="#5a5af0" stroke-width="0.45" fill="none"/>
<polyline points="362.10,154.08 362.62,154.05 363.14,154.03 363.66,154.00 364.18,153.96 364.70,153.93 365.22,153.89 365.74,153.85 366.26,153.80 366.78,153.75 367.30,153.69 367.82,153.63 368.34,153.56 368.86,153.49 369.38,153.41 369.90,153.32 370.42,153.23 370.94,153.12 371.46,153.01 371.98,152.88 372.50,152.75 373.02,152.60 373.54,152.45 374.06,152.28 374.58,152.09 375.11,151.89 375.63,151.67 376.15,151.44 376.67,151.19 377.19,150.92 377.71,150.64 378.23,150.33 378.75,150.01 379.27,149.66 379.79,149.29 380.31,148.91 380.83,148.50 381.35,148.07 381.87,147.62 382.39,147.15 382.91,146.67 383.43,146.17 383.95,145.65 384.47,145.12 384.99,144.57 385.51,144.02 386.03,143.46 386.55,142.90 387.07,142.33 387.59,141.76 388.11,141.20 388.63,140.64 389.15,140.09 389.67,139.54 390.19,139.01 390.71,138.50 391.23,138.00 391.75,137.51 392.27,137.05 392.79,136.60 393.31,136.17 393.83,135.77 394.35,135.38 394.87,135.02 395.39,134.67 395.91,134.35 396.43,134.05 396.95,133.76 397.47,133.49 397.99,133.25 398.51,133.02 399.03,132.80 399.55,132.60 400.07,132.42 400.59,132.25 401.12,132.09 401.64,131.95 402.16,131.81 402.68,131.69 403.20,131.58 403.72,131.48 404.24,131.38 404.76,131.29 405.28,131.21 405.80,131.14 406.32,131.07 406.84,131.01 407.36,130.96 407.88,130.91 408.40,130.86 408.92,130.82 409.44,130.78 409.96,130.74 410.48,130.71 411.00,130.68 411.52,130.66 412.04,130.63 412.56,130.61 413.08,130.59 413.60,130.57" fill="none" stroke="#ee6a6a" stroke-width="0.6"/>
<path d="M362.10,153.17L363.55,155.67L360.65,155.67Z" fill="#c83838"/>
<path d="M372.40,150.40L373.85,152.90L370.95,152.90Z" fill="#c83838"/>
<path d="M382.70,145.78L384.15,148.28L381.25,148.28Z" fill="#c83838"/>
<path d="M393.00,134.69L394.45,137.19L391.55,137.19Z" fill="#c83838"/>
<path d="M403.30,130.07L404.75,132.57L401.85,132.57Z" fill="#c83838"/>
<path d="M413.60,129.15L415.05,131.65L412.15,131.65Z" fill="#c83838"/>
<polyline points="362.10,165.02 362.62,164.97 363.14,164.93 363.66,164.88 364.18,164.83 364.70,164.78 365.22,164.74 365.74,164.69 366.26,164.64 366.78,164.58 367.30,164.53 367.82,164.48 368.34,164.43 368.86,164.37 369.38,164.32 369.90,164.26 370.42,164.21 370.94,164.15 371.46,164.09 371.98,164.04 372.50,163.98 373.02,163.92 373.54,163.86 374.06,163.80 374.58,163.74 375.11,163.67 375.63,163.61 376.15,163.55 376.67,163.48 377.19,163.42 377.71,163.35 378.23,163.29 378.75,163.22 379.27,163.15 379.79,163.09 380.31,163.02 380.83,162.95 381.35,162.88 381.87,162.81 382.39,162.74 382.91,162.67 383.43,162.60 383.95,162.52 384.47,162.45 384.99,162.38 385.51,162.31 386.03,162.23 386.55,162.16 387.07,162.08 387.59,162.01 388.11,161.93 388.63,161.86 389.15,161.78 389.67,161.70 390.19,161.63 390.71,161.55 391.23,161.47 391.75,161.40 392.27,161.32 392.79,161.24 393.31,161.16 393.83,161.08 394.35,161.01 394.87,160.93 395.39,160.85 395.91,160.77 396.43,160.69 396.95,160.61 397.47,160.53 397.99,160.46 398.51,160.38 399.03,160.30 399.55,160.22 400.07,160.14 400.59,160.06 401.12,159.99 401.64,159.91 402.16,159.83 402.68,159.75 403.20,159.68 403.72,159.60 404.24,159.52 404.76,159.45 405.28,159.37 405.80,159.29 406.32,159.22 406.84,159.14 407.36,159.07 407.88,158.99 408.40,158.92 408.92,158.85 409.44,158.77 409.96,158.70 410.48,158.63 411.00,158.56 411.52,158.49 412.04,158.41 412.56,158.34 413.08,158.27 413.60,158.21" fill="none" stroke="#5a5af0" stroke-width="0.6"/>
<rect x="360.80" y="164.00" width="2.6" height="2.6" fill="#1a1aa8"/>
<rect x="371.10" y="162.38" width="2.6" height="2.6" fill="#1a1aa8"/>
<rect x="381.40" y="161.23" width="2.6" height="2.6" fill="#1a1aa8"/>
<rect x="391.70" y="159.84" width="2.6" height="2.6" fill="#1a1aa8"/>
<rect x="402.00" y="158.92" width="2.6" height="2.6" fill="#1a1aa8"/>
<rect x="412.30" y="156.61" width="2.6" height="2.6" fill="#1a1aa8"/>
<polyline points="362.10,145.62 362.62,145.43 363.14,145.23 363.66,145.03 364.18,144.82 364.70,144.60 365.22,144.38 365.74,144.15 366.26,143.92 366.78,143.68 367.30,143.43 367.82,143.18 368.34,142.92 368.86,142.66 369.38,142.39 369.90,142.11 370.42,141.83 370.94,141.55 371.46,141.25 371.98,140.96 372.50,140.65 373.02,140.35 373.54,140.04 374.06,139.72 374.58,139.40 375.11,139.08 375.63,138.75 376.15,138.42 376.67,138.09 377.19,137.75 377.71,137.42 378.23,137.08 378.75,136.74 379.27,136.40 379.79,136.06 380.31,135.72 380.83,135.38 381.35,135.03 381.87,134.69 382.39,134.36 382.91,134.02 383.43,133.68 383.95,133.35 384.47,133.02 384.99,132.70 385.51,132.37 386.03,132.05 386.55,131.74 387.07,131.42 387.59,131.12 388.11,130.81 388.63,130.52 389.15,130.22 389.67,129.94 390.19,129.66 390.71,129.38 391.23,129.11 391.75,128.84 392.27,128.59 392.79,128.33 393.31,128.09 393.83,127.85 394.35,127.61 394.87,127.38 395.39,127.16 395.91,126.95 396.43,126.74 396.95,126.53 397.47,126.33 397.99,126.14 398.51,125.96 399.03,125.78 399.55,125.60 400.07,125.44 400.59,125.27 401.12,125.12 401.64,124.96 402.16,124.82 402.68,124.68 403.20,124.54 403.72,124.41 404.24,124.28 404.76,124.16 405.28,124.04 405.80,123.93 406.32,123.82 406.84,123.72 407.36,123.61 407.88,123.52 408.40,123.43 408.92,123.34 409.44,123.25 409.96,123.17 410.48,123.09 411.00,123.01 411.52,122.94 412.04,122.87 412.56,122.80 413.08,122.74 413.60,122.68" fill="none" stroke="#4a4a4a" stroke-width="0.6"/>
<path d="M360.65,144.90L363.55,144.90L362.10,147.40Z" fill="#111"/>
<path d="M370.95,138.89L373.85,138.89L372.40,141.39Z" fill="#111"/>
<path d="M381.25,134.27L384.15,134.27L382.70,136.77Z" fill="#111"/>
<path d="M391.55,126.42L394.45,126.42L393.00,128.92Z" fill="#111"/>
<path d="M401.85,123.64L404.75,123.64L403.30,126.14Z" fill="#111"/>
<path d="M412.15,121.80L415.05,121.80L413.60,124.30Z" fill="#111"/>
<line x1="36.25" y1="235.70" x2="114.50" y2="235.70" stroke="#b0b0b0" stroke-width="0.9"/>
<line x1="36.25" y1="247.30" x2="114.50" y2="247.30" stroke="#b0b0b0" stroke-width="0.9"/>
<line x1="36.25" y1="200.50" x2="36.25" y2="247.30" stroke="#1a1a1a" stroke-width="0.9"/>
<line x1="34.15" y1="200.90" x2="36.25" y2="200.90" stroke="#1a1a1a" stroke-width="0.8"/>
<text x="34.00" y="202.20" transform="rotate(0.05 34.00 202.20)" class="yt">1.00</text>
<line x1="34.15" y1="212.50" x2="36.25" y2="212.50" stroke="#1a1a1a" stroke-width="0.8"/>
<text x="34.00" y="213.80" transform="rotate(0.05 34.00 213.80)" class="yt">0.75</text>
<line x1="34.15" y1="224.10" x2="36.25" y2="224.10" stroke="#1a1a1a" stroke-width="0.8"/>
<text x="34.00" y="225.40" transform="rotate(0.05 34.00 225.40)" class="yt">0.50</text>
<line x1="34.15" y1="235.70" x2="36.25" y2="235.70" stroke="#1a1a1a" stroke-width="0.8"/>
<text x="34.00" y="237.00" transform="rotate(0.05 34.00 237.00)" class="yt">0.25</text>
<line x1="34.15" y1="247.30" x2="36.25" y2="247.30" stroke="#1a1a1a" stroke-width="0.8"/>
<text x="34.00" y="248.60" transform="rotate(0.05 34.00 248.60)" class="yt">0.00</text>
<line x1="41.40" y1="252.30" x2="114.30" y2="252.30" stroke="#1a1a1a" stroke-width="0.9"/>
<line x1="41.80" y1="252.30" x2="41.80" y2="253.90" stroke="#1a1a1a" stroke-width="0.8"/>
<text x="41.65" y="258.25" transform="rotate(0.05 41.65 258.25)" class="xt">-5</text>
<line x1="52.10" y1="252.30" x2="52.10" y2="253.90" stroke="#1a1a1a" stroke-width="0.8"/>
<text x="51.95" y="258.25" transform="rotate(0.05 51.95 258.25)" class="xt">-4</text>
<line x1="62.40" y1="252.30" x2="62.40" y2="253.90" stroke="#1a1a1a" stroke-width="0.8"/>
<text x="62.25" y="258.25" transform="rotate(0.05 62.25 258.25)" class="xt">-3</text>
<line x1="72.70" y1="252.30" x2="72.70" y2="253.90" stroke="#1a1a1a" stroke-width="0.8"/>
<text x="72.55" y="258.25" transform="rotate(0.05 72.55 258.25)" class="xt">-2</text>
<line x1="83.00" y1="252.30" x2="83.00" y2="253.90" stroke="#1a1a1a" stroke-width="0.8"/>
<text x="82.85" y="258.25" transform="rotate(0.05 82.85 258.25)" class="xt">-1</text>
<line x1="93.30" y1="252.30" x2="93.30" y2="253.90" stroke="#1a1a1a" stroke-width="0.8"/>
<text x="93.15" y="258.25" transform="rotate(0.05 93.15 258.25)" class="xt">0</text>
<line x1="103.60" y1="252.30" x2="103.60" y2="253.90" stroke="#1a1a1a" stroke-width="0.8"/>
<text x="103.45" y="258.25" transform="rotate(0.05 103.45 258.25)" class="xt">1</text>
<line x1="113.90" y1="252.30" x2="113.90" y2="253.90" stroke="#1a1a1a" stroke-width="0.8"/>
<text x="113.75" y="258.25" transform="rotate(0.05 113.75 258.25)" class="xt">2</text>
<text x="74.70" y="194.67" transform="rotate(0.05 74.70 194.67)" class="ttl">DND-41</text>
<text x="42.50" y="205.10" transform="rotate(0.05 42.50 205.10)" class="ci">CI (ED50) = 0.17</text>
<path d="M52.10,240.80V247.30M51.40,240.80H52.80M51.40,247.30H52.80" stroke="#5a5af0" stroke-width="0.45" fill="none"/>
<path d="M52.10,244.98V248.69M51.40,244.98H52.80M51.40,248.69H52.80" stroke="#4a4a4a" stroke-width="0.45" fill="none"/>
<path d="M72.70,228.74V233.38M72.00,228.74H73.40M72.00,233.38H73.40" stroke="#5a5af0" stroke-width="0.45" fill="none"/>
<path d="M72.70,242.89V245.68M72.00,242.89H73.40M72.00,245.68H73.40" stroke="#ee6a6a" stroke-width="0.45" fill="none"/>
<polyline points="52.10,244.64 52.62,244.64 53.14,244.64 53.66,244.64 54.18,244.64 54.70,244.64 55.22,244.64 55.74,244.64 56.26,244.64 56.78,244.64 57.30,244.64 57.82,244.64 58.34,244.64 58.86,244.64 59.38,244.64 59.90,244.64 60.42,244.64 60.94,244.64 61.46,244.64 61.98,244.64 62.50,244.64 63.02,244.63 63.54,244.63 64.06,244.63 64.58,244.63 65.11,244.63 65.63,244.63 66.15,244.62 66.67,244.62 67.19,244.62 67.71,244.61 68.23,244.61 68.75,244.61 69.27,244.60 69.79,244.59 70.31,244.59 70.83,244.58 71.35,244.57 71.87,244.56 72.39,244.54 72.91,244.53 73.43,244.51 73.95,244.49 74.47,244.47 74.99,244.45 75.51,244.42 76.03,244.38 76.55,244.34 77.07,244.30 77.59,244.25 78.11,244.19 78.63,244.13 79.15,244.05 79.67,243.97 80.19,243.87 80.71,243.76 81.23,243.64 81.75,243.50 82.27,243.34 82.79,243.16 83.31,242.97 83.83,242.75 84.35,242.50 84.87,242.23 85.39,241.94 85.91,241.62 86.43,241.27 86.95,240.90 87.47,240.50 87.99,240.07 88.51,239.63 89.03,239.17 89.55,238.69 90.07,238.20 90.59,237.71 91.12,237.22 91.64,236.73 92.16,236.25 92.68,235.78 93.20,235.33 93.72,234.90 94.24,234.50 94.76,234.12 95.28,233.76 95.80,233.43 96.32,233.13 96.84,232.86 97.36,232.61 97.88,232.38 98.40,232.18 98.92,232.00 99.44,231.83 99.96,231.69 100.48,231.56 101.00,231.45 101.52,231.35 102.04,231.26 102.56,231.18 103.08,231.12 103.60,231.06" fill="none" stroke="#ee6a6a" stroke-width="0.6"/>
<path d="M52.10,243.25L53.55,245.75L50.65,245.75Z" fill="#c83838"/>
<path d="M62.40,243.25L63.85,245.75L60.95,245.75Z" fill="#c83838"/>
<path d="M72.70,242.78L74.15,245.28L71.25,245.28Z" fill="#c83838"/>
<path d="M83.00,241.62L84.45,244.12L81.55,244.12Z" fill="#c83838"/>
<path d="M93.30,233.74L94.75,236.24L91.85,236.24Z" fill="#c83838"/>
<path d="M103.60,229.56L105.05,232.06L102.15,232.06Z" fill="#c83838"/>
<polyline points="52.10,244.05 52.62,243.94 53.14,243.82 53.66,243.69 54.18,243.56 54.70,243.42 55.22,243.26 55.74,243.10 56.26,242.92 56.78,242.74 57.30,242.54 57.82,242.33 58.34,242.11 58.86,241.87 59.38,241.62 59.90,241.36 60.42,241.08 60.94,240.79 61.46,240.48 61.98,240.16 62.50,239.82 63.02,239.47 63.54,239.10 64.06,238.72 64.58,238.33 65.11,237.92 65.63,237.50 66.15,237.07 66.67,236.62 67.19,236.17 67.71,235.70 68.23,235.23 68.75,234.75 69.27,234.26 69.79,233.77 70.31,233.28 70.83,232.79 71.35,232.29 71.87,231.80 72.39,231.32 72.91,230.83 73.43,230.36 73.95,229.89 74.47,229.43 74.99,228.98 75.51,228.54 76.03,228.11 76.55,227.69 77.07,227.29 77.59,226.90 78.11,226.53 78.63,226.17 79.15,225.82 79.67,225.50 80.19,225.18 80.71,224.88 81.23,224.59 81.75,224.32 82.27,224.07 82.79,223.82 83.31,223.59 83.83,223.38 84.35,223.17 84.87,222.98 85.39,222.80 85.91,222.63 86.43,222.47 86.95,222.32 87.47,222.18 87.99,222.05 88.51,221.93 89.03,221.82 89.55,221.71 90.07,221.61 90.59,221.52 91.12,221.43 91.64,221.35 92.16,221.28 92.68,221.21 93.20,221.14 93.72,221.08 94.24,221.03 94.76,220.98 95.28,220.93 95.80,220.89 96.32,220.84 96.84,220.81 97.36,220.77 97.88,220.74 98.40,220.71 98.92,220.68 99.44,220.65 99.96,220.63 100.48,220.61 101.00,220.58 101.52,220.57 102.04,220.55 102.56,220.53 103.08,220.52 103.60,220.50" fill="none" stroke="#5a5af0" stroke-width="0.6"/>
<rect x="50.80" y="242.75" width="2.6" height="2.6" fill="#1a1aa8"/>
<rect x="61.10" y="238.58" width="2.6" height="2.6" fill="#1a1aa8"/>
<rect x="71.40" y="229.76" width="2.6" height="2.6" fill="#1a1aa8"/>
<rect x="81.70" y="222.34" width="2.6" height="2.6" fill="#1a1aa8"/>
<rect x="92.00" y="220.02" width="2.6" height="2.6" fill="#1a1aa8"/>
<rect x="102.30" y="219.09" width="2.6" height="2.6" fill="#1a1aa8"/>
<polyline points="52.10,246.50 52.62,246.26 53.14,246.00 53.66,245.73 54.18,245.44 54.70,245.14 55.22,244.81 55.74,244.47 56.26,244.11 56.78,243.74 57.30,243.34 57.82,242.92 58.34,242.48 58.86,242.02 59.38,241.54 59.90,241.04 60.42,240.52 60.94,239.97 61.46,239.41 61.98,238.82 62.50,238.21 63.02,237.58 63.54,236.93 64.06,236.26 64.58,235.58 65.11,234.87 65.63,234.15 66.15,233.42 66.67,232.67 67.19,231.91 67.71,231.14 68.23,230.37 68.75,229.58 69.27,228.79 69.79,228.00 70.31,227.21 70.83,226.42 71.35,225.63 71.87,224.85 72.39,224.08 72.91,223.31 73.43,222.56 73.95,221.82 74.47,221.09 74.99,220.38 75.51,219.68 76.03,219.00 76.55,218.34 77.07,217.70 77.59,217.08 78.11,216.48 78.63,215.90 79.15,215.35 79.67,214.81 80.19,214.30 80.71,213.81 81.23,213.33 81.75,212.88 82.27,212.46 82.79,212.05 83.31,211.66 83.83,211.29 84.35,210.94 84.87,210.61 85.39,210.29 85.91,209.99 86.43,209.71 86.95,209.45 87.47,209.19 87.99,208.96 88.51,208.74 89.03,208.53 89.55,208.33 90.07,208.14 90.59,207.97 91.12,207.81 91.64,207.65 92.16,207.51 92.68,207.37 93.20,207.25 93.72,207.13 94.24,207.02 94.76,206.91 95.28,206.82 95.80,206.73 96.32,206.64 96.84,206.56 97.36,206.49 97.88,206.42 98.40,206.35 98.92,206.29 99.44,206.23 99.96,206.18 100.48,206.13 101.00,206.09 101.52,206.04 102.04,206.00 102.56,205.96 103.08,205.93 103.60,205.90" fill="none" stroke="#4a4a4a" stroke-width="0.6"/>
<path d="M50.65,245.84L53.55,245.84L52.10,248.34Z" fill="#111"/>
<path d="M60.95,236.56L63.85,236.56L62.40,239.06Z" fill="#111"/>
<path d="M71.25,223.56L74.15,223.56L72.70,226.06Z" fill="#111"/>
<path d="M81.55,210.11L84.45,210.11L83.00,212.61Z" fill="#111"/>
<path d="M91.85,205.93L94.75,205.93L93.30,208.43Z" fill="#111"/>
<path d="M102.15,205.47L105.05,205.47L103.60,207.97Z" fill="#111"/>
<line x1="139.60" y1="232.57" x2="217.70" y2="232.57" stroke="#b0b0b0" stroke-width="0.9"/>
<line x1="139.60" y1="243.10" x2="217.70" y2="243.10" stroke="#b0b0b0" stroke-width="0.9"/>
<line x1="139.60" y1="200.60" x2="139.60" y2="247.50" stroke="#1a1a1a" stroke-width="0.9"/>
<line x1="137.50" y1="201.00" x2="139.60" y2="201.00" stroke="#1a1a1a" stroke-width="0.8"/>
<text x="137.35" y="202.30" transform="rotate(0.05 137.35 202.30)" class="yt">1.00</text>
<line x1="137.50" y1="211.53" x2="139.60" y2="211.53" stroke="#1a1a1a" stroke-width="0.8"/>
<text x="137.35" y="212.83" transform="rotate(0.05 137.35 212.83)" class="yt">0.75</text>
<line x1="137.50" y1="222.05" x2="139.60" y2="222.05" stroke="#1a1a1a" stroke-width="0.8"/>
<text x="137.35" y="223.35" transform="rotate(0.05 137.35 223.35)" class="yt">0.50</text>
<line x1="137.50" y1="232.57" x2="139.60" y2="232.57" stroke="#1a1a1a" stroke-width="0.8"/>
<text x="137.35" y="233.88" transform="rotate(0.05 137.35 233.88)" class="yt">0.25</text>
<line x1="137.50" y1="243.10" x2="139.60" y2="243.10" stroke="#1a1a1a" stroke-width="0.8"/>
<text x="137.35" y="244.40" transform="rotate(0.05 137.35 244.40)" class="yt">0.00</text>
<line x1="144.60" y1="252.25" x2="217.50" y2="252.25" stroke="#1a1a1a" stroke-width="0.9"/>
<line x1="145.00" y1="252.25" x2="145.00" y2="253.85" stroke="#1a1a1a" stroke-width="0.8"/>
<text x="144.85" y="258.20" transform="rotate(0.05 144.85 258.20)" class="xt">-5</text>
<line x1="155.30" y1="252.25" x2="155.30" y2="253.85" stroke="#1a1a1a" stroke-width="0.8"/>
<text x="155.15" y="258.20" transform="rotate(0.05 155.15 258.20)" class="xt">-4</text>
<line x1="165.60" y1="252.25" x2="165.60" y2="253.85" stroke="#1a1a1a" stroke-width="0.8"/>
<text x="165.45" y="258.20" transform="rotate(0.05 165.45 258.20)" class="xt">-3</text>
<line x1="175.90" y1="252.25" x2="175.90" y2="253.85" stroke="#1a1a1a" stroke-width="0.8"/>
<text x="175.75" y="258.20" transform="rotate(0.05 175.75 258.20)" class="xt">-2</text>
<line x1="186.20" y1="252.25" x2="186.20" y2="253.85" stroke="#1a1a1a" stroke-width="0.8"/>
<text x="186.05" y="258.20" transform="rotate(0.05 186.05 258.20)" class="xt">-1</text>
<line x1="196.50" y1="252.25" x2="196.50" y2="253.85" stroke="#1a1a1a" stroke-width="0.8"/>
<text x="196.35" y="258.20" transform="rotate(0.05 196.35 258.20)" class="xt">0</text>
<line x1="206.80" y1="252.25" x2="206.80" y2="253.85" stroke="#1a1a1a" stroke-width="0.8"/>
<text x="206.65" y="258.20" transform="rotate(0.05 206.65 258.20)" class="xt">1</text>
<line x1="217.10" y1="252.25" x2="217.10" y2="253.85" stroke="#1a1a1a" stroke-width="0.8"/>
<text x="216.95" y="258.20" transform="rotate(0.05 216.95 258.20)" class="xt">2</text>
<text x="177.50" y="194.87" transform="rotate(0.05 177.50 194.87)" class="ttl">MOLT-4</text>
<text x="145.00" y="205.45" transform="rotate(0.05 145.00 205.45)" class="ci">CI (ED50) = 0.004</text>
<path d="M155.30,234.68V238.89M154.60,234.68H156.00M154.60,238.89H156.00" stroke="#4a4a4a" stroke-width="0.45" fill="none"/>
<path d="M175.90,234.26V238.47M175.20,234.26H176.60M175.20,238.47H176.60" stroke="#ee6a6a" stroke-width="0.45" fill="none"/>
<path d="M196.50,224.16V227.52M195.80,224.16H197.20M195.80,227.52H197.20" stroke="#ee6a6a" stroke-width="0.45" fill="none"/>
<path d="M206.80,219.52V223.73M206.10,219.52H207.50M206.10,223.73H207.50" stroke="#ee6a6a" stroke-width="0.45" fill="none"/>
<path d="M186.20,227.94V230.47M185.50,227.94H186.90M185.50,230.47H186.90" stroke="#4a4a4a" stroke-width="0.45" fill="none"/>
<polyline points="155.30,237.68 155.82,237.68 156.34,237.68 156.86,237.68 157.38,237.68 157.90,237.68 158.42,237.68 158.94,237.68 159.46,237.68 159.98,237.68 160.50,237.68 161.02,237.68 161.54,237.68 162.06,237.68 162.58,237.68 163.10,237.68 163.62,237.68 164.14,237.68 164.66,237.68 165.18,237.68 165.70,237.68 166.22,237.68 166.74,237.68 167.26,237.67 167.78,237.67 168.31,237.67 168.83,237.67 169.35,237.67 169.87,237.67 170.39,237.67 170.91,237.67 171.43,237.66 171.95,237.66 172.47,237.66 172.99,237.66 173.51,237.65 174.03,237.65 174.55,237.64 175.07,237.64 175.59,237.63 176.11,237.62 176.63,237.61 177.15,237.59 177.67,237.58 178.19,237.56 178.71,237.54 179.23,237.52 179.75,237.49 180.27,237.45 180.79,237.41 181.31,237.36 181.83,237.31 182.35,237.24 182.87,237.16 183.39,237.07 183.91,236.97 184.43,236.84 184.95,236.70 185.47,236.53 185.99,236.34 186.51,236.12 187.03,235.87 187.55,235.58 188.07,235.26 188.59,234.89 189.11,234.48 189.63,234.03 190.15,233.53 190.67,232.99 191.19,232.41 191.71,231.80 192.23,231.15 192.75,230.49 193.27,229.81 193.79,229.13 194.32,228.45 194.84,227.79 195.36,227.15 195.88,226.54 196.40,225.97 196.92,225.44 197.44,224.95 197.96,224.51 198.48,224.11 199.00,223.75 199.52,223.43 200.04,223.15 200.56,222.91 201.08,222.69 201.60,222.51 202.12,222.34 202.64,222.21 203.16,222.09 203.68,221.98 204.20,221.90 204.72,221.82 205.24,221.76 205.76,221.70 206.28,221.66 206.80,221.62" fill="none" stroke="#ee6a6a" stroke-width="0.6"/>
<path d="M155.30,236.55L156.75,239.05L153.85,239.05Z" fill="#c83838"/>
<path d="M165.60,236.97L167.05,239.47L164.15,239.47Z" fill="#c83838"/>
<path d="M175.90,234.86L177.35,237.36L174.45,237.36Z" fill="#c83838"/>
<path d="M186.20,234.86L187.65,237.36L184.75,237.36Z" fill="#c83838"/>
<path d="M196.50,224.34L197.95,226.84L195.05,226.84Z" fill="#c83838"/>
<path d="M206.80,220.13L208.25,222.63L205.35,222.63Z" fill="#c83838"/>
<polyline points="155.30,242.10 155.82,242.08 156.34,242.07 156.86,242.06 157.38,242.04 157.90,242.03 158.42,242.01 158.94,242.00 159.46,241.98 159.98,241.96 160.50,241.94 161.02,241.92 161.54,241.89 162.06,241.87 162.58,241.84 163.10,241.82 163.62,241.79 164.14,241.76 164.66,241.72 165.18,241.69 165.70,241.65 166.22,241.61 166.74,241.57 167.26,241.53 167.78,241.48 168.31,241.43 168.83,241.38 169.35,241.32 169.87,241.27 170.39,241.20 170.91,241.14 171.43,241.07 171.95,241.00 172.47,240.92 172.99,240.84 173.51,240.76 174.03,240.67 174.55,240.57 175.07,240.47 175.59,240.37 176.11,240.26 176.63,240.15 177.15,240.03 177.67,239.90 178.19,239.77 178.71,239.63 179.23,239.49 179.75,239.34 180.27,239.18 180.79,239.02 181.31,238.85 181.83,238.67 182.35,238.49 182.87,238.30 183.39,238.10 183.91,237.90 184.43,237.69 184.95,237.47 185.47,237.25 185.99,237.02 186.51,236.78 187.03,236.54 187.55,236.30 188.07,236.05 188.59,235.79 189.11,235.53 189.63,235.26 190.15,235.00 190.67,234.72 191.19,234.45 191.71,234.17 192.23,233.89 192.75,233.61 193.27,233.33 193.79,233.05 194.32,232.77 194.84,232.49 195.36,232.22 195.88,231.94 196.40,231.67 196.92,231.40 197.44,231.13 197.96,230.87 198.48,230.61 199.00,230.35 199.52,230.11 200.04,229.86 200.56,229.62 201.08,229.39 201.60,229.17 202.12,228.95 202.64,228.73 203.16,228.53 203.68,228.33 204.20,228.13 204.72,227.95 205.24,227.77 205.76,227.60 206.28,227.43 206.80,227.27" fill="none" stroke="#5a5af0" stroke-width="0.6"/>
<rect x="154.00" y="240.54" width="2.6" height="2.6" fill="#1a1aa8"/>
<rect x="164.30" y="240.12" width="2.6" height="2.6" fill="#1a1aa8"/>
<rect x="174.60" y="240.12" width="2.6" height="2.6" fill="#1a1aa8"/>
<rect x="184.90" y="234.64" width="2.6" height="2.6" fill="#1a1aa8"/>
<rect x="195.20" y="230.85" width="2.6" height="2.6" fill="#1a1aa8"/>
<rect x="205.50" y="225.80" width="2.6" height="2.6" fill="#1a1aa8"/>
<polyline points="155.30,237.46 155.82,237.45 156.34,237.44 156.86,237.43 157.38,237.42 157.90,237.41 158.42,237.40 158.94,237.39 159.46,237.38 159.98,237.36 160.50,237.35 161.02,237.33 161.54,237.31 162.06,237.29 162.58,237.27 163.10,237.24 163.62,237.22 164.14,237.19 164.66,237.16 165.18,237.13 165.70,237.09 166.22,237.06 166.74,237.01 167.26,236.97 167.78,236.92 168.31,236.87 168.83,236.81 169.35,236.75 169.87,236.69 170.39,236.61 170.91,236.54 171.43,236.45 171.95,236.37 172.47,236.27 172.99,236.16 173.51,236.05 174.03,235.93 174.55,235.80 175.07,235.66 175.59,235.51 176.11,235.35 176.63,235.18 177.15,234.99 177.67,234.79 178.19,234.58 178.71,234.35 179.23,234.11 179.75,233.85 180.27,233.58 180.79,233.29 181.31,232.98 181.83,232.65 182.35,232.31 182.87,231.95 183.39,231.56 183.91,231.16 184.43,230.74 184.95,230.30 185.47,229.84 185.99,229.37 186.51,228.87 187.03,228.36 187.55,227.83 188.07,227.29 188.59,226.73 189.11,226.17 189.63,225.59 190.15,225.00 190.67,224.40 191.19,223.80 191.71,223.20 192.23,222.59 192.75,221.99 193.27,221.38 193.79,220.79 194.32,220.20 194.84,219.62 195.36,219.04 195.88,218.48 196.40,217.94 196.92,217.41 197.44,216.89 197.96,216.39 198.48,215.91 199.00,215.45 199.52,215.00 200.04,214.58 200.56,214.17 201.08,213.78 201.60,213.41 202.12,213.06 202.64,212.73 203.16,212.42 203.68,212.12 204.20,211.85 204.72,211.58 205.24,211.34 205.76,211.11 206.28,210.89 206.80,210.69" fill="none" stroke="#4a4a4a" stroke-width="0.6"/>
<path d="M153.85,235.78L156.75,235.78L155.30,238.28Z" fill="#111"/>
<path d="M164.15,237.05L167.05,237.05L165.60,239.55Z" fill="#111"/>
<path d="M174.45,234.10L177.35,234.10L175.90,236.60Z" fill="#111"/>
<path d="M184.75,228.21L187.65,228.21L186.20,230.71Z" fill="#111"/>
<path d="M195.05,216.84L197.95,216.84L196.50,219.34Z" fill="#111"/>
<path d="M205.35,209.68L208.25,209.68L206.80,212.18Z" fill="#111"/>
<line x1="244.40" y1="228.65" x2="323.10" y2="228.65" stroke="#b0b0b0" stroke-width="0.9"/>
<line x1="244.40" y1="238.00" x2="323.10" y2="238.00" stroke="#b0b0b0" stroke-width="0.9"/>
<line x1="244.40" y1="200.20" x2="244.40" y2="247.35" stroke="#1a1a1a" stroke-width="0.9"/>
<line x1="242.30" y1="200.60" x2="244.40" y2="200.60" stroke="#1a1a1a" stroke-width="0.8"/>
<text x="242.15" y="201.90" transform="rotate(0.05 242.15 201.90)" class="yt">1.00</text>
<line x1="242.30" y1="209.95" x2="244.40" y2="209.95" stroke="#1a1a1a" stroke-width="0.8"/>
<text x="242.15" y="211.25" transform="rotate(0.05 242.15 211.25)" class="yt">0.75</text>
<line x1="242.30" y1="219.30" x2="244.40" y2="219.30" stroke="#1a1a1a" stroke-width="0.8"/>
<text x="242.15" y="220.60" transform="rotate(0.05 242.15 220.60)" class="yt">0.50</text>
<line x1="242.30" y1="228.65" x2="244.40" y2="228.65" stroke="#1a1a1a" stroke-width="0.8"/>
<text x="242.15" y="229.95" transform="rotate(0.05 242.15 229.95)" class="yt">0.25</text>
<line x1="242.30" y1="238.00" x2="244.40" y2="238.00" stroke="#1a1a1a" stroke-width="0.8"/>
<text x="242.15" y="239.30" transform="rotate(0.05 242.15 239.30)" class="yt">0.00</text>
<line x1="242.30" y1="247.35" x2="244.40" y2="247.35" stroke="#1a1a1a" stroke-width="0.8"/>
<text x="242.15" y="248.65" transform="rotate(0.05 242.15 248.65)" class="yt">-0.25</text>
<line x1="250.00" y1="253.10" x2="322.90" y2="253.10" stroke="#1a1a1a" stroke-width="0.9"/>
<line x1="250.40" y1="253.10" x2="250.40" y2="254.70" stroke="#1a1a1a" stroke-width="0.8"/>
<text x="250.25" y="259.05" transform="rotate(0.05 250.25 259.05)" class="xt">-5</text>
<line x1="260.70" y1="253.10" x2="260.70" y2="254.70" stroke="#1a1a1a" stroke-width="0.8"/>
<text x="260.55" y="259.05" transform="rotate(0.05 260.55 259.05)" class="xt">-4</text>
<line x1="271.00" y1="253.10" x2="271.00" y2="254.70" stroke="#1a1a1a" stroke-width="0.8"/>
<text x="270.85" y="259.05" transform="rotate(0.05 270.85 259.05)" class="xt">-3</text>
<line x1="281.30" y1="253.10" x2="281.30" y2="254.70" stroke="#1a1a1a" stroke-width="0.8"/>
<text x="281.15" y="259.05" transform="rotate(0.05 281.15 259.05)" class="xt">-2</text>
<line x1="291.60" y1="253.10" x2="291.60" y2="254.70" stroke="#1a1a1a" stroke-width="0.8"/>
<text x="291.45" y="259.05" transform="rotate(0.05 291.45 259.05)" class="xt">-1</text>
<line x1="301.90" y1="253.10" x2="301.90" y2="254.70" stroke="#1a1a1a" stroke-width="0.8"/>
<text x="301.75" y="259.05" transform="rotate(0.05 301.75 259.05)" class="xt">0</text>
<line x1="312.20" y1="253.10" x2="312.20" y2="254.70" stroke="#1a1a1a" stroke-width="0.8"/>
<text x="312.05" y="259.05" transform="rotate(0.05 312.05 259.05)" class="xt">1</text>
<line x1="322.50" y1="253.10" x2="322.50" y2="254.70" stroke="#1a1a1a" stroke-width="0.8"/>
<text x="322.35" y="259.05" transform="rotate(0.05 322.35 259.05)" class="xt">2</text>
<text x="282.35" y="194.77" transform="rotate(0.05 282.35 194.77)" class="ttl">P12</text>
<path d="M260.70,233.66V238.15M260.00,233.66H261.40M260.00,238.15H261.40" stroke="#4a4a4a" stroke-width="0.45" fill="none"/>
<path d="M271.00,232.88V235.87M270.30,232.88H271.70M270.30,235.87H271.70" stroke="#4a4a4a" stroke-width="0.45" fill="none"/>
<path d="M312.20,237.25V240.99M311.50,237.25H312.90M311.50,240.99H312.90" stroke="#ee6a6a" stroke-width="0.45" fill="none"/>
<path d="M291.60,231.64V234.63M290.90,231.64H292.30M290.90,234.63H292.30" stroke="#5a5af0" stroke-width="0.45" fill="none"/>
<polyline points="260.70,237.63 271.00,235.38 281.30,233.51 291.60,226.78 301.90,230.52 312.20,239.12" fill="none" stroke="#ee6a6a" stroke-width="0.6"/>
<path d="M260.70,236.13L262.15,238.63L259.25,238.63Z" fill="#c83838"/>
<path d="M271.00,233.88L272.45,236.38L269.55,236.38Z" fill="#c83838"/>
<path d="M281.30,232.01L282.75,234.51L279.85,234.51Z" fill="#c83838"/>
<path d="M291.60,225.28L293.05,227.78L290.15,227.78Z" fill="#c83838"/>
<path d="M301.90,229.02L303.35,231.52L300.45,231.52Z" fill="#c83838"/>
<path d="M312.20,237.62L313.65,240.12L310.75,240.12Z" fill="#c83838"/>
<polyline points="260.70,240.62 271.00,240.81 281.30,240.24 291.60,233.14 301.90,228.65 312.20,228.65" fill="none" stroke="#5a5af0" stroke-width="0.6"/>
<rect x="259.40" y="239.32" width="2.6" height="2.6" fill="#1a1aa8"/>
<rect x="269.70" y="243.06" width="2.6" height="2.6" fill="#1a1aa8"/>
<rect x="280.00" y="238.72" width="2.6" height="2.6" fill="#1a1aa8"/>
<rect x="290.30" y="231.84" width="2.6" height="2.6" fill="#1a1aa8"/>
<rect x="300.60" y="227.35" width="2.6" height="2.6" fill="#1a1aa8"/>
<rect x="310.90" y="227.35" width="2.6" height="2.6" fill="#1a1aa8"/>
<polyline points="260.70,235.91 271.00,234.37 281.30,232.58 291.60,233.14 301.90,239.12 312.20,234.75" fill="none" stroke="#4a4a4a" stroke-width="0.6"/>
<path d="M259.25,234.91L262.15,234.91L260.70,237.41Z" fill="#111"/>
<path d="M269.55,233.37L272.45,233.37L271.00,235.87Z" fill="#111"/>
<path d="M279.85,231.58L282.75,231.58L281.30,234.08Z" fill="#111"/>
<path d="M290.15,232.14L293.05,232.14L291.60,234.64Z" fill="#111"/>
<path d="M300.45,238.12L303.35,238.12L301.90,240.62Z" fill="#111"/>
<path d="M310.75,233.75L313.65,233.75L312.20,236.25Z" fill="#111"/>
<line x1="347.90" y1="228.80" x2="426.00" y2="228.80" stroke="#b0b0b0" stroke-width="0.9"/>
<line x1="347.90" y1="238.20" x2="426.00" y2="238.20" stroke="#b0b0b0" stroke-width="0.9"/>
<line x1="347.90" y1="200.20" x2="347.90" y2="247.60" stroke="#1a1a1a" stroke-width="0.9"/>
<line x1="345.80" y1="200.60" x2="347.90" y2="200.60" stroke="#1a1a1a" stroke-width="0.8"/>
<text x="345.65" y="201.90" transform="rotate(0.05 345.65 201.90)" class="yt">1.00</text>
<line x1="345.80" y1="210.00" x2="347.90" y2="210.00" stroke="#1a1a1a" stroke-width="0.8"/>
<text x="345.65" y="211.30" transform="rotate(0.05 345.65 211.30)" class="yt">0.75</text>
<line x1="345.80" y1="219.40" x2="347.90" y2="219.40" stroke="#1a1a1a" stroke-width="0.8"/>
<text x="345.65" y="220.70" transform="rotate(0.05 345.65 220.70)" class="yt">0.50</text>
<line x1="345.80" y1="228.80" x2="347.90" y2="228.80" stroke="#1a1a1a" stroke-width="0.8"/>
<text x="345.65" y="230.10" transform="rotate(0.05 345.65 230.10)" class="yt">0.25</text>
<line x1="345.80" y1="238.20" x2="347.90" y2="238.20" stroke="#1a1a1a" stroke-width="0.8"/>
<text x="345.65" y="239.50" transform="rotate(0.05 345.65 239.50)" class="yt">0.00</text>
<line x1="345.80" y1="247.60" x2="347.90" y2="247.60" stroke="#1a1a1a" stroke-width="0.8"/>
<text x="345.65" y="248.90" transform="rotate(0.05 345.65 248.90)" class="yt">-0.25</text>
<line x1="352.90" y1="252.30" x2="425.80" y2="252.30" stroke="#1a1a1a" stroke-width="0.9"/>
<line x1="353.30" y1="252.30" x2="353.30" y2="253.90" stroke="#1a1a1a" stroke-width="0.8"/>
<text x="353.15" y="258.25" transform="rotate(0.05 353.15 258.25)" class="xt">-5</text>
<line x1="363.60" y1="252.30" x2="363.60" y2="253.90" stroke="#1a1a1a" stroke-width="0.8"/>
<text x="363.45" y="258.25" transform="rotate(0.05 363.45 258.25)" class="xt">-4</text>
<line x1="373.90" y1="252.30" x2="373.90" y2="253.90" stroke="#1a1a1a" stroke-width="0.8"/>
<text x="373.75" y="258.25" transform="rotate(0.05 373.75 258.25)" class="xt">-3</text>
<line x1="384.20" y1="252.30" x2="384.20" y2="253.90" stroke="#1a1a1a" stroke-width="0.8"/>
<text x="384.05" y="258.25" transform="rotate(0.05 384.05 258.25)" class="xt">-2</text>
<line x1="394.50" y1="252.30" x2="394.50" y2="253.90" stroke="#1a1a1a" stroke-width="0.8"/>
<text x="394.35" y="258.25" transform="rotate(0.05 394.35 258.25)" class="xt">-1</text>
<line x1="404.80" y1="252.30" x2="404.80" y2="253.90" stroke="#1a1a1a" stroke-width="0.8"/>
<text x="404.65" y="258.25" transform="rotate(0.05 404.65 258.25)" class="xt">0</text>
<line x1="415.10" y1="252.30" x2="415.10" y2="253.90" stroke="#1a1a1a" stroke-width="0.8"/>
<text x="414.95" y="258.25" transform="rotate(0.05 414.95 258.25)" class="xt">1</text>
<line x1="425.40" y1="252.30" x2="425.40" y2="253.90" stroke="#1a1a1a" stroke-width="0.8"/>
<text x="425.25" y="258.25" transform="rotate(0.05 425.25 258.25)" class="xt">2</text>
<text x="385.95" y="194.87" transform="rotate(0.05 385.95 194.87)" class="ttl">LOUCY</text>
<path d="M363.60,226.54V235.57M362.90,226.54H364.30M362.90,235.57H364.30" stroke="#4a4a4a" stroke-width="0.45" fill="none"/>
<path d="M363.60,232.56V243.84M362.90,232.56H364.30M362.90,243.84H364.30" stroke="#ee6a6a" stroke-width="0.45" fill="none"/>
<path d="M384.20,234.44V241.96M383.50,234.44H384.90M383.50,241.96H384.90" stroke="#ee6a6a" stroke-width="0.45" fill="none"/>
<path d="M394.50,222.03V233.31M393.80,222.03H395.20M393.80,233.31H395.20" stroke="#ee6a6a" stroke-width="0.45" fill="none"/>
<path d="M404.80,216.02V222.03M404.10,216.02H405.50M404.10,222.03H405.50" stroke="#ee6a6a" stroke-width="0.45" fill="none"/>
<path d="M415.10,215.26V222.78M414.40,215.26H415.80M414.40,222.78H415.80" stroke="#ee6a6a" stroke-width="0.45" fill="none"/>
<path d="M394.50,218.27V222.78M393.80,218.27H395.20M393.80,222.78H395.20" stroke="#4a4a4a" stroke-width="0.45" fill="none"/>
<path d="M373.90,223.91V228.42M373.20,223.91H374.60M373.20,228.42H374.60" stroke="#4a4a4a" stroke-width="0.45" fill="none"/>
<polyline points="363.60,238.20 364.12,238.20 364.64,238.20 365.16,238.20 365.68,238.20 366.20,238.20 366.72,238.20 367.24,238.20 367.76,238.20 368.28,238.20 368.80,238.20 369.32,238.20 369.84,238.20 370.36,238.20 370.88,238.20 371.40,238.20 371.92,238.20 372.44,238.20 372.96,238.20 373.48,238.20 374.00,238.20 374.52,238.20 375.04,238.20 375.56,238.20 376.08,238.20 376.61,238.20 377.13,238.20 377.65,238.20 378.17,238.20 378.69,238.20 379.21,238.20 379.73,238.20 380.25,238.20 380.77,238.20 381.29,238.20 381.81,238.20 382.33,238.20 382.85,238.20 383.37,238.20 383.89,238.20 384.41,238.20 384.93,238.20 385.45,238.20 385.97,238.20 386.49,238.20 387.01,238.19 387.53,238.19 388.05,238.17 388.57,238.15 389.09,238.09 389.61,237.99 390.13,237.78 390.65,237.37 391.17,236.60 391.69,235.23 392.21,233.03 392.73,230.04 393.25,226.73 393.77,223.83 394.29,221.76 394.81,220.49 395.33,219.78 395.85,219.41 396.37,219.22 396.89,219.12 397.41,219.07 397.93,219.05 398.45,219.04 398.97,219.03 399.49,219.03 400.01,219.03 400.53,219.02 401.05,219.02 401.57,219.02 402.09,219.02 402.62,219.02 403.14,219.02 403.66,219.02 404.18,219.02 404.70,219.02 405.22,219.02 405.74,219.02 406.26,219.02 406.78,219.02 407.30,219.02 407.82,219.02 408.34,219.02 408.86,219.02 409.38,219.02 409.90,219.02 410.42,219.02 410.94,219.02 411.46,219.02 411.98,219.02 412.50,219.02 413.02,219.02 413.54,219.02 414.06,219.02 414.58,219.02 415.10,219.02" fill="none" stroke="#ee6a6a" stroke-width="0.6"/>
<path d="M363.60,236.70L365.05,239.20L362.15,239.20Z" fill="#c83838"/>
<path d="M373.90,233.32L375.35,235.82L372.45,235.82Z" fill="#c83838"/>
<path d="M384.20,236.70L385.65,239.20L382.75,239.20Z" fill="#c83838"/>
<path d="M394.50,226.17L395.95,228.67L393.05,228.67Z" fill="#c83838"/>
<path d="M404.80,217.52L406.25,220.02L403.35,220.02Z" fill="#c83838"/>
<path d="M415.10,217.52L416.55,220.02L413.65,220.02Z" fill="#c83838"/>
<polyline points="363.60,238.20 364.12,238.20 364.64,238.20 365.16,238.20 365.68,238.20 366.20,238.20 366.72,238.20 367.24,238.20 367.76,238.20 368.28,238.20 368.80,238.20 369.32,238.20 369.84,238.20 370.36,238.20 370.88,238.20 371.40,238.20 371.92,238.20 372.44,238.20 372.96,238.20 373.48,238.20 374.00,238.20 374.52,238.20 375.04,238.20 375.56,238.20 376.08,238.20 376.61,238.20 377.13,238.20 377.65,238.20 378.17,238.20 378.69,238.20 379.21,238.20 379.73,238.20 380.25,238.20 380.77,238.20 381.29,238.20 381.81,238.20 382.33,238.20 382.85,238.20 383.37,238.20 383.89,238.20 384.41,238.20 384.93,238.20 385.45,238.20 385.97,238.20 386.49,238.20 387.01,238.20 387.53,238.20 388.05,238.20 388.57,238.20 389.09,238.20 389.61,238.20 390.13,238.20 390.65,238.20 391.17,238.20 391.69,238.20 392.21,238.20 392.73,238.20 393.25,238.20 393.77,238.20 394.29,238.20 394.81,238.20 395.33,238.20 395.85,238.20 396.37,238.20 396.89,238.20 397.41,238.20 397.93,238.20 398.45,238.20 398.97,238.20 399.49,238.20 400.01,238.20 400.53,238.20 401.05,238.20 401.57,238.20 402.09,238.20 402.62,238.20 403.14,238.20 403.66,238.20 404.18,238.20 404.70,238.20 405.22,238.20 405.74,238.20 406.26,238.20 406.78,238.20 407.30,238.20 407.82,238.20 408.34,238.20 408.86,238.20 409.38,238.20 409.90,238.20 410.42,238.20 410.94,238.20 411.46,238.20 411.98,238.20 412.50,238.20 413.02,238.20 413.54,238.20 414.06,238.20 414.58,238.20 415.10,238.20" fill="none" stroke="#5a5af0" stroke-width="0.6"/>
<rect x="362.30" y="236.90" width="2.6" height="2.6" fill="#1a1aa8"/>
<rect x="372.60" y="236.90" width="2.6" height="2.6" fill="#1a1aa8"/>
<rect x="382.90" y="236.90" width="2.6" height="2.6" fill="#1a1aa8"/>
<rect x="393.20" y="236.15" width="2.6" height="2.6" fill="#1a1aa8"/>
<rect x="403.50" y="237.28" width="2.6" height="2.6" fill="#1a1aa8"/>
<rect x="413.80" y="236.90" width="2.6" height="2.6" fill="#1a1aa8"/>
<polyline points="363.60,229.91 364.12,229.91 364.64,229.90 365.16,229.90 365.68,229.90 366.20,229.89 366.72,229.89 367.24,229.89 367.76,229.88 368.28,229.88 368.80,229.87 369.32,229.86 369.84,229.86 370.36,229.85 370.88,229.84 371.40,229.83 371.92,229.82 372.44,229.81 372.96,229.79 373.48,229.78 374.00,229.76 374.52,229.74 375.04,229.72 375.56,229.70 376.08,229.68 376.61,229.65 377.13,229.62 377.65,229.58 378.17,229.55 378.69,229.51 379.21,229.46 379.73,229.41 380.25,229.35 380.77,229.29 381.29,229.23 381.81,229.15 382.33,229.07 382.85,228.98 383.37,228.88 383.89,228.77 384.41,228.64 384.93,228.51 385.45,228.36 385.97,228.21 386.49,228.03 387.01,227.84 387.53,227.63 388.05,227.40 388.57,227.16 389.09,226.89 389.61,226.60 390.13,226.29 390.65,225.96 391.17,225.60 391.69,225.22 392.21,224.81 392.73,224.38 393.25,223.92 393.77,223.44 394.29,222.94 394.81,222.41 395.33,221.86 395.85,221.30 396.37,220.72 396.89,220.12 397.41,219.51 397.93,218.90 398.45,218.28 398.97,217.66 399.49,217.05 400.01,216.43 400.53,215.83 401.05,215.24 401.57,214.66 402.09,214.10 402.62,213.56 403.14,213.05 403.66,212.55 404.18,212.08 404.70,211.63 405.22,211.21 405.74,210.81 406.26,210.43 406.78,210.08 407.30,209.76 407.82,209.46 408.34,209.18 408.86,208.92 409.38,208.68 409.90,208.46 410.42,208.26 410.94,208.07 411.46,207.90 411.98,207.75 412.50,207.61 413.02,207.48 413.54,207.36 414.06,207.25 414.58,207.16 415.10,207.07" fill="none" stroke="#4a4a4a" stroke-width="0.6"/>
<path d="M362.15,230.06L365.05,230.06L363.60,232.56Z" fill="#111"/>
<path d="M372.45,225.17L375.35,225.17L373.90,227.67Z" fill="#111"/>
<path d="M382.75,225.92L385.65,225.92L384.20,228.42Z" fill="#111"/>
<path d="M393.05,219.53L395.95,219.53L394.50,222.03Z" fill="#111"/>
<path d="M403.35,212.01L406.25,212.01L404.80,214.51Z" fill="#111"/>
<path d="M413.65,207.12L416.55,207.12L415.10,209.62Z" fill="#111"/>
</svg>
</body></html>
